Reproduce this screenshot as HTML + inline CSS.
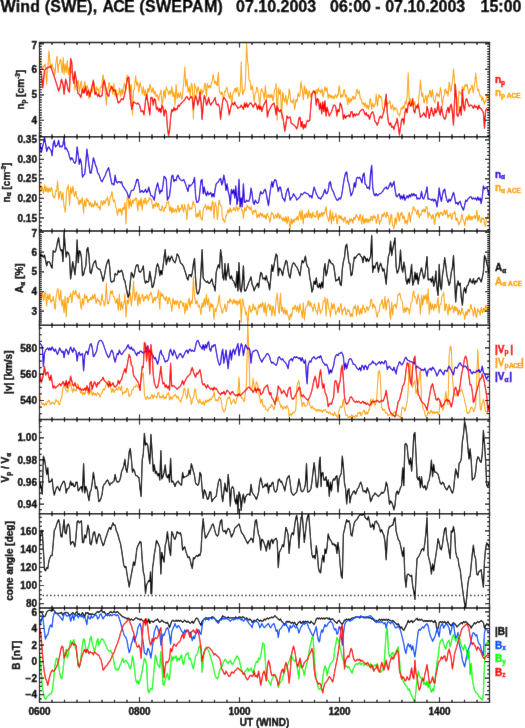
<!DOCTYPE html><html><head><meta charset="utf-8"><style>html,body{margin:0;padding:0;background:#fff;width:525px;height:728px;overflow:hidden}svg{display:block}text{stroke-width:0.4px;stroke:#000}text.c{stroke:inherit}</style></head><body><div id="w">
<svg width="525" height="728" viewBox="0 0 525 728" font-family='"Liberation Sans", sans-serif' font-weight="bold">
<defs><filter id="bl" x="0" y="0" width="525" height="728" filterUnits="userSpaceOnUse"><feConvolveMatrix order="3" kernelMatrix="0.0028 0.0470 0.0028 0.0470 0.8008 0.0470 0.0028 0.0470 0.0028" preserveAlpha="true" edgeMode="duplicate"/></filter>
<clipPath id="c0"><rect x="39.5" y="42.50" width="450.0" height="94.26"/></clipPath>
<clipPath id="c1"><rect x="39.5" y="136.76" width="450.0" height="94.26"/></clipPath>
<clipPath id="c2"><rect x="39.5" y="231.01" width="450.0" height="94.26"/></clipPath>
<clipPath id="c3"><rect x="39.5" y="325.27" width="450.0" height="94.26"/></clipPath>
<clipPath id="c4"><rect x="39.5" y="419.53" width="450.0" height="94.26"/></clipPath>
<clipPath id="c5"><rect x="39.5" y="513.79" width="450.0" height="94.26"/></clipPath>
<clipPath id="c6"><rect x="39.5" y="608.04" width="450.0" height="94.26"/></clipPath>
</defs><g filter="url(#bl)"><rect width="525" height="728" fill="#fff"/>
<line x1="42.70" y1="595.5" x2="489.5" y2="595.5" stroke="#000" stroke-width="1.4" stroke-dasharray="1.3 2.45"/>
<g clip-path="url(#c0)" fill="none" stroke-width="1.3" stroke-linejoin="round">
<polyline stroke="#ffa500" stroke-width="1.05" points="39.1,61.7 39.6,62.3 40.2,60.6 40.7,61.2 41.3,66.1 41.8,69.7 42.3,69.3 42.9,66.4 43.4,66.1 44.0,67.2 44.5,65.0 45.1,63.9 45.6,66.1 46.1,77.2 46.7,84.5 47.2,74.3 47.8,68.2 48.3,60.6 48.9,50.9 49.4,55.3 49.9,61.7 50.5,67.1 51.0,68.2 51.6,64.5 52.1,63.9 52.9,68.1 53.6,68.2 54.3,70.5 54.9,74.7 55.8,63.9 56.5,58.5 57.1,56.3 58.0,72.6 58.5,66.2 59.1,63.9 59.6,63.0 60.1,59.5 60.7,59.4 61.2,63.9 61.8,70.5 62.3,72.6 63.2,57.4 64.1,74.7 64.6,68.3 65.1,63.9 65.7,69.2 66.2,72.6 66.8,64.9 67.3,60.6 67.9,70.0 68.4,74.7 68.9,69.4 69.5,67.1 70.0,71.7 70.6,73.7 71.7,71.5 72.7,72.6 73.3,76.8 73.8,79.1 74.4,83.2 74.9,89.9 75.5,87.2 76.0,81.3 76.5,80.7 77.1,83.4 77.6,83.1 78.2,80.2 78.7,84.9 79.3,92.1 79.8,90.1 80.3,85.6 80.9,81.8 81.4,81.3 82.0,88.6 82.5,93.2 83.1,89.0 83.6,86.7 84.1,86.1 84.7,81.3 85.2,83.8 85.8,89.9 86.3,89.7 86.9,85.6 87.4,86.0 87.9,88.9 88.5,96.1 89.0,98.6 89.6,93.2 90.1,92.1 90.7,91.1 91.2,87.8 91.7,88.5 92.3,92.1 92.8,89.8 93.4,83.4 93.9,82.5 94.5,85.6 95.0,92.3 95.5,94.3 96.1,88.9 96.6,86.7 97.2,89.9 97.7,88.9 98.3,89.1 98.8,93.2 99.3,93.5 99.9,91.0 100.4,87.1 101.0,86.7 101.5,87.3 102.1,83.4 102.6,76.9 103.1,74.7 103.7,79.7 104.2,81.3 104.8,85.4 105.3,93.2 105.9,100.2 106.4,105.1 106.9,97.3 107.5,92.1 108.0,90.4 108.6,84.5 109.1,82.4 109.7,83.4 110.2,87.9 110.7,89.9 111.3,86.0 111.8,85.6 112.4,91.9 112.9,94.3 113.5,86.9 114.0,83.4 114.5,91.4 115.1,96.5 115.6,91.6 116.2,89.9 116.7,95.4 117.3,97.5 117.8,93.8 118.3,94.3 118.9,92.7 119.4,87.8 120.0,90.6 120.5,96.5 121.1,94.3 121.6,88.9 122.1,90.6 122.7,94.3 123.2,91.0 123.8,85.6 124.3,83.1 124.9,84.5 125.4,89.6 125.9,89.9 126.5,80.5 127.0,74.7 127.6,79.0 128.1,80.2 128.7,84.9 129.2,92.1 129.7,93.3 130.3,91.0 130.8,85.4 131.4,84.5 131.9,101.8 132.5,114.9 133.0,100.7 133.5,89.9 134.1,90.0 134.6,85.6 135.2,79.4 135.7,75.8 136.3,82.4 136.8,85.6 137.3,82.2 137.9,83.4 138.4,89.6 139.0,92.1 139.5,85.6 140.1,82.3 140.6,85.9 141.1,86.7 141.7,88.7 142.2,94.3 142.8,92.8 143.3,86.7 143.9,90.1 144.4,95.4 144.9,94.7 145.5,89.9 146.0,92.7 146.6,99.7 147.1,96.5 147.7,88.9 148.2,88.5 148.7,92.1 149.3,90.4 149.8,84.5 150.4,85.0 150.9,88.9 151.5,92.3 152.2,92.1 152.7,88.4 153.3,87.8 153.8,92.1 154.3,94.3 154.9,91.0 155.4,92.1 156.0,96.1 156.5,96.5 157.1,94.7 157.6,95.4 158.1,99.8 158.7,100.8 159.2,95.9 159.8,94.3 160.3,93.6 160.9,89.9 161.4,96.1 161.9,105.1 162.5,103.6 163.0,98.6 163.6,92.4 164.1,89.9 164.7,96.1 165.2,98.6 165.7,91.0 166.3,86.7 166.8,89.3 167.4,89.9 167.9,90.8 168.5,94.3 169.0,93.9 169.5,91.0 170.1,90.9 170.6,94.3 171.2,92.7 171.7,86.7 172.3,89.5 172.8,96.5 173.3,96.4 173.9,92.1 174.4,96.5 175.0,105.1 175.5,96.2 176.1,84.5 176.6,89.4 177.1,98.6 177.7,97.8 178.2,93.2 178.8,94.3 179.3,97.5 179.9,95.8 180.4,92.1 180.9,94.4 181.5,98.6 182.0,99.1 182.6,95.4 183.1,88.1 183.7,83.4 184.2,76.4 184.7,67.1 185.3,75.1 185.8,86.7 186.4,84.3 186.9,79.1 187.5,84.5 188.0,92.1 188.5,90.6 189.1,86.7 189.6,89.9 190.2,96.5 190.7,91.1 191.3,83.4 191.8,83.7 192.3,86.7 192.9,105.0 193.4,119.3 194.0,99.7 194.5,83.4 195.1,86.5 195.6,86.7 196.1,88.8 196.7,94.3 197.2,91.5 197.8,86.7 198.3,86.8 198.9,89.9 199.4,94.8 199.9,96.5 200.5,91.4 201.0,88.9 201.6,92.7 202.1,94.3 202.7,90.9 203.2,92.1 203.7,90.6 204.3,85.6 204.8,83.3 205.4,83.4 205.9,91.8 206.5,96.5 207.0,87.8 207.5,83.4 208.1,86.6 208.6,87.8 209.2,85.7 209.7,85.6 210.3,87.9 210.8,87.8 211.3,83.1 211.9,82.3 212.4,79.7 213.0,74.7 213.5,75.5 214.1,80.2 214.6,83.7 215.1,83.4 215.7,81.1 216.2,82.3 216.8,85.3 217.3,85.6 217.9,76.7 218.4,72.6 218.9,84.5 219.5,92.1 220.0,91.5 220.6,94.3 221.1,94.5 221.7,92.1 222.2,92.4 222.7,96.5 223.3,99.1 223.8,98.6 224.4,93.0 224.9,91.0 225.5,91.9 226.0,89.9 226.5,87.0 227.1,87.8 227.6,92.1 228.2,94.3 228.7,95.1 229.3,98.6 229.8,97.7 230.3,92.1 230.9,95.3 231.4,103.0 232.0,101.7 232.5,97.5 233.1,92.6 233.6,92.1 234.1,91.9 234.7,88.9 235.2,88.2 235.8,92.1 236.3,92.0 236.9,87.8 237.4,87.3 237.9,89.9 238.5,94.5 239.0,96.5 239.6,93.3 240.1,92.1 240.7,79.1 241.2,61.7 241.7,75.9 242.3,92.1 242.8,94.8 243.4,93.2 243.9,89.8 244.5,91.0 245.0,87.9 245.5,81.3 246.1,61.1 246.6,43.3 247.2,54.7 247.7,61.7 248.3,67.0 248.8,76.9 249.3,80.5 249.9,80.2 250.4,83.4 251.0,89.9 251.5,89.3 252.1,85.6 252.6,87.4 253.1,92.1 253.7,98.3 254.2,101.9 254.8,95.6 255.3,93.2 255.9,92.6 256.4,88.9 256.9,87.1 257.5,87.8 258.0,92.1 258.6,94.3 259.1,98.9 259.7,107.3 260.2,101.1 260.7,92.1 261.3,88.8 261.8,88.9 262.4,91.9 262.9,92.1 263.5,93.7 264.2,99.7 264.7,94.9 265.3,85.6 265.8,90.6 266.3,97.5 266.9,98.3 267.4,96.5 268.0,94.5 268.5,95.4 269.1,97.8 269.6,95.4 270.1,94.4 270.7,97.5 271.2,97.4 271.8,94.3 272.3,96.3 272.9,100.8 273.4,100.0 273.9,95.4 274.5,90.0 275.0,88.9 275.6,88.4 276.1,83.4 276.7,100.4 277.2,120.3 277.7,106.3 278.3,87.8 278.8,89.1 279.4,94.3 279.9,93.8 280.5,89.9 281.0,101.7 281.5,118.2 282.1,106.4 282.6,92.1 283.2,93.4 283.7,98.6 284.3,101.3 284.8,101.9 285.3,97.4 285.9,95.4 286.4,102.5 287.0,105.1 287.5,100.6 288.1,98.6 288.6,95.8 289.1,88.9 289.7,91.4 290.2,97.5 290.8,101.9 291.3,101.9 291.9,100.9 292.4,103.0 292.9,102.3 293.5,98.6 294.0,102.7 294.6,109.5 295.1,107.4 295.7,100.8 296.2,99.5 296.7,101.9 297.3,100.4 297.8,94.3 298.4,93.1 298.9,96.5 299.5,96.5 300.0,94.3 300.5,86.0 301.1,81.3 301.6,86.7 302.2,89.9 302.7,93.8 303.3,99.7 303.8,93.7 304.3,85.6 304.9,87.7 305.4,94.3 306.0,93.7 306.5,88.9 307.1,91.6 307.6,98.6 308.1,97.4 308.7,93.2 309.2,90.8 309.8,92.1 310.3,96.9 310.9,97.5 311.4,93.9 311.9,93.2 312.5,93.9 313.0,91.0 313.6,90.3 314.1,92.1 314.7,94.3 315.2,94.3 315.7,90.8 316.3,89.9 316.8,93.8 317.4,93.2 317.9,88.7 318.5,87.8 319.0,91.7 319.5,91.0 320.1,90.5 320.6,93.2 321.2,92.4 321.7,88.9 322.3,90.6 322.8,96.5 323.3,97.0 323.9,93.2 324.4,89.0 325.0,86.7 325.5,90.8 326.1,91.0 326.6,88.3 327.1,87.8 327.7,94.3 328.2,98.6 328.8,94.2 329.3,94.3 329.9,96.9 330.4,97.5 330.9,95.2 331.5,95.4 332.0,98.3 332.6,96.5 333.1,96.0 333.7,98.6 334.2,98.7 334.7,96.5 335.3,94.7 335.8,95.4 336.4,97.8 336.9,97.5 337.5,94.4 338.0,95.4 338.5,91.6 339.1,85.6 339.6,87.7 340.2,94.3 340.7,97.4 341.3,97.5 341.8,94.6 342.3,96.5 342.9,96.6 343.4,92.1 344.0,89.6 344.5,89.9 345.1,95.1 345.6,97.5 346.1,94.8 346.7,95.4 347.2,101.4 347.8,105.1 348.3,99.4 348.9,97.5 349.4,101.3 349.9,103.0 350.5,99.8 351.0,98.6 351.6,101.0 352.1,98.6 352.7,96.2 353.2,96.5 353.7,99.4 354.3,98.6 354.8,97.0 355.4,98.6 355.9,95.7 356.5,89.9 357.0,89.4 357.5,91.0 358.1,93.8 358.6,92.1 359.2,90.8 359.7,94.3 360.3,98.8 360.8,98.6 361.3,99.1 361.9,101.9 362.4,104.2 363.0,104.1 363.5,102.8 364.1,105.1 364.6,106.4 365.1,103.0 365.7,103.4 366.2,107.3 366.8,108.2 367.3,105.1 367.9,105.4 368.4,109.5 368.9,107.6 369.5,103.0 370.0,99.1 370.6,98.6 371.1,105.5 371.7,109.5 372.2,104.9 372.7,103.0 373.3,106.2 373.8,107.3 374.4,104.9 374.9,105.1 375.6,102.0 376.2,94.1 376.8,98.6 377.3,106.3 377.9,103.8 378.4,97.4 379.0,94.5 379.5,95.2 380.1,98.1 380.6,96.3 381.2,96.5 381.7,99.7 382.3,106.0 382.8,109.6 383.4,109.8 383.9,112.9 384.5,108.3 385.0,100.8 385.6,96.9 386.2,97.4 386.7,104.1 387.3,106.3 387.8,103.2 388.4,103.0 388.9,103.3 389.5,100.8 390.0,101.8 390.6,106.3 391.1,109.2 391.7,108.5 392.2,105.0 392.8,105.2 393.3,109.3 393.9,110.7 394.4,108.1 395.0,107.4 395.5,109.3 396.1,108.5 396.6,108.5 397.2,110.7 397.8,114.1 398.3,114.0 398.9,114.1 399.4,116.2 400.0,114.5 400.5,110.7 401.1,107.7 401.6,108.5 402.2,109.3 402.7,107.4 403.3,105.8 403.8,108.5 404.4,107.4 404.9,103.0 405.5,101.3 406.0,104.1 406.6,101.4 407.1,96.3 407.7,83.1 408.2,73.1 408.8,90.7 409.4,104.1 409.9,100.2 410.5,98.6 411.0,104.7 411.6,106.3 412.1,103.4 412.7,103.0 413.2,106.7 413.8,106.3 414.3,101.7 414.9,101.9 415.4,105.7 416.0,105.2 416.5,105.4 417.1,108.5 417.6,108.5 418.2,106.3 418.7,98.0 419.3,93.0 419.8,88.7 420.4,79.8 421.0,86.1 421.5,95.2 422.1,96.4 422.6,93.0 423.2,96.3 423.7,101.9 424.3,103.0 424.8,99.7 425.4,96.4 425.9,95.2 426.5,101.1 427.0,104.1 427.6,97.4 428.1,95.2 428.7,96.8 429.2,94.1 429.8,90.2 430.3,90.8 430.9,96.3 431.4,97.4 432.0,91.5 432.6,89.7 433.1,96.6 433.7,99.7 434.2,100.1 434.8,103.0 435.3,101.2 435.9,96.3 436.4,93.5 437.0,93.0 437.5,96.1 438.1,95.2 438.6,94.4 439.2,97.4 439.7,93.8 440.3,87.5 440.8,89.2 441.4,93.0 441.9,102.0 442.5,106.3 443.0,99.7 443.6,97.4 444.2,95.3 444.7,89.7 445.3,89.1 445.8,91.9 446.4,93.6 446.9,90.8 447.5,92.0 448.0,96.3 448.6,90.7 449.1,82.0 449.7,84.4 450.2,89.7 450.8,91.6 451.3,90.8 451.9,84.9 452.4,80.9 453.0,76.7 453.5,68.7 454.1,76.0 454.6,86.4 455.2,93.2 455.7,96.3 456.3,95.8 456.9,97.4 457.4,105.5 458.0,110.7 458.5,99.6 459.1,90.8 459.6,93.1 460.2,93.0 460.7,92.8 461.3,95.2 461.8,93.0 462.4,86.4 462.9,87.1 463.5,90.8 464.0,90.1 464.6,86.4 465.1,84.6 465.7,86.4 466.2,86.6 466.8,84.2 467.3,85.4 467.9,88.6 468.5,93.1 469.0,94.1 469.6,89.7 470.1,88.6 470.7,90.0 471.2,87.5 471.8,84.8 472.3,85.3 472.9,91.1 473.4,93.0 474.0,87.1 474.5,85.3 475.1,80.5 475.6,73.1 476.2,77.0 476.7,84.2 477.3,89.2 477.8,90.8 478.4,89.0 478.9,89.7 479.5,94.6 480.1,96.3 480.6,95.1 481.2,97.4 481.7,100.8 482.3,99.7 482.8,96.8 483.4,98.6 483.9,102.7 484.5,104.1 485.0,101.1 485.6,101.9 486.1,100.1 486.7,96.3 487.2,94.2 487.8,94.1 488.3,98.0 488.9,98.6"/>
<polyline stroke="#ff0000" points="39.7,70.4 41.3,72.6 42.8,87.8 44.5,70.4 46.7,68.2 48.9,67.1 50.6,66.1 52.1,70.4 53.6,74.7 55.4,80.2 57.1,85.6 58.6,91.0 60.1,86.7 61.5,79.1 63.0,84.5 64.1,94.3 65.6,79.1 66.9,83.4 68.4,91.0 69.5,92.1 70.6,58.5 71.7,61.7 72.7,76.9 73.8,83.4 74.9,71.5 76.7,82.3 77.7,93.2 79.3,94.3 80.8,97.5 82.5,88.9 84.0,93.2 85.3,86.7 86.9,95.4 88.4,89.9 90.1,96.5 91.9,86.7 93.4,80.2 94.9,94.3 96.2,92.1 97.7,96.5 98.8,94.3 99.9,96.9 102.1,95.4 103.1,84.5 104.2,80.2 105.8,87.8 107.1,94.3 108.6,96.5 110.1,89.9 111.8,86.7 113.6,91.0 115.1,89.9 116.6,96.5 118.3,103.0 119.9,101.9 121.6,98.6 123.1,99.7 124.4,95.4 125.9,87.8 127.5,78.0 128.8,76.9 130.3,98.6 131.8,109.5 133.5,101.9 135.3,103.0 136.8,104.1 137.9,103.0 139.6,105.1 141.1,111.7 142.7,110.6 144.0,114.9 145.5,100.8 146.6,94.3 148.3,105.1 149.8,114.9 150.9,97.5 152.2,97.5 153.3,105.1 154.3,98.6 155.4,99.7 156.5,109.5 157.6,107.3 158.7,111.7 159.8,108.4 160.9,112.7 161.9,105.1 163.0,107.3 164.1,116.0 165.2,109.5 166.3,111.7 167.4,126.9 168.5,135.5 169.5,131.2 170.6,118.2 171.7,109.5 172.8,111.7 173.9,107.3 175.0,110.6 176.1,108.4 177.1,109.5 178.2,105.1 179.3,106.2 180.4,104.1 181.5,103.0 182.6,101.9 183.7,100.8 184.7,99.7 185.8,97.5 186.9,96.5 188.0,98.6 189.1,99.7 190.2,97.5 191.3,96.5 192.3,98.6 193.4,109.5 194.5,100.8 195.6,95.4 196.7,98.6 197.8,105.1 198.9,100.8 199.9,92.1 201.0,101.9 202.1,119.3 203.2,105.1 204.3,95.4 205.4,98.6 206.5,105.1 207.5,103.0 208.6,97.5 209.7,103.0 210.8,105.1 211.9,103.0 213.0,101.9 214.1,99.7 215.1,97.5 216.2,104.1 217.3,105.1 218.4,104.1 219.5,107.3 220.6,119.3 221.7,109.5 222.7,100.8 223.8,97.5 224.9,98.6 226.0,100.8 227.1,101.9 228.2,107.3 229.3,114.9 230.3,109.5 231.4,105.1 232.5,103.0 233.6,105.1 234.7,101.9 235.8,105.1 236.9,106.2 237.9,108.4 239.0,107.3 240.1,107.3 241.2,105.1 242.3,107.3 243.4,109.5 244.5,103.0 245.5,107.3 246.6,103.0 247.7,107.3 248.8,105.1 249.9,103.0 251.0,103.0 252.1,105.1 253.1,107.3 254.2,105.1 255.3,103.0 256.4,105.1 257.5,109.5 258.6,105.1 259.7,109.5 260.7,106.2 261.8,111.7 262.9,107.3 264.2,104.1 265.3,101.9 266.3,99.7 267.4,117.1 268.5,111.7 269.6,109.5 270.7,107.3 271.8,105.1 272.9,104.1 273.9,103.0 275.0,107.3 276.1,114.9 277.2,106.2 278.3,109.5 279.4,111.7 280.5,109.5 281.5,112.7 282.6,116.0 283.7,122.5 284.8,131.2 285.9,124.7 287.0,116.0 288.1,118.2 289.1,117.1 290.2,117.1 291.3,123.6 292.4,123.6 293.5,124.7 294.6,125.8 295.7,126.9 296.7,129.0 297.8,125.8 298.9,118.2 300.0,117.1 301.1,126.9 302.2,121.4 303.3,129.0 304.3,124.7 305.4,127.9 306.5,122.5 307.6,120.3 308.7,121.4 309.8,120.3 310.9,105.1 311.9,94.3 313.0,92.1 314.1,91.0 315.2,93.2 316.3,105.1 317.4,98.6 318.5,99.7 319.5,109.5 320.6,103.0 321.7,113.8 322.8,101.9 323.9,111.7 325.0,100.8 326.1,116.0 327.1,107.3 328.2,111.7 329.3,116.0 330.4,113.8 331.5,111.7 332.6,108.4 333.7,105.1 334.7,105.1 335.8,107.3 336.9,116.0 338.0,109.5 339.1,111.7 340.2,103.0 341.3,105.1 342.3,109.5 343.4,119.3 344.5,114.9 345.6,118.2 346.7,116.0 347.8,116.0 348.9,114.9 349.9,117.1 351.0,111.7 352.1,111.7 353.2,117.1 354.3,113.8 355.4,116.0 356.5,113.8 357.5,114.9 358.6,114.9 359.7,111.7 360.8,110.6 361.9,109.5 363.0,109.5 364.1,111.7 365.1,114.9 366.2,112.7 367.3,116.0 368.4,114.9 369.5,119.3 370.6,114.9 371.7,112.7 372.7,111.7 373.8,114.9 374.9,121.4 376.2,122.9 377.3,125.1 378.4,121.7 379.5,117.3 380.6,116.2 381.7,118.4 382.8,115.1 383.9,110.7 385.0,105.2 386.2,94.1 387.3,112.9 388.4,121.7 389.5,125.1 390.6,122.9 391.7,127.3 392.8,126.2 393.9,129.5 395.0,125.1 396.1,122.9 397.2,118.4 398.3,126.2 399.4,135.0 400.5,127.3 401.6,119.5 402.7,118.4 403.8,124.0 404.9,112.9 406.0,108.5 407.1,112.9 408.2,104.1 409.4,101.9 410.5,106.3 411.6,104.1 412.7,98.6 413.8,110.7 414.9,112.9 416.0,106.3 417.1,107.4 418.2,104.1 419.3,110.7 420.4,117.3 421.5,116.2 422.6,115.1 423.7,112.9 424.8,115.1 425.9,117.3 427.0,106.3 428.1,110.7 429.2,118.4 430.3,112.9 431.4,107.4 432.6,112.9 433.7,116.2 434.8,108.5 435.9,112.9 437.0,110.7 438.1,101.9 439.2,111.8 440.3,115.1 441.4,106.3 442.5,112.9 443.6,117.3 444.7,119.5 445.8,117.3 446.9,110.7 448.0,107.4 449.1,112.9 450.2,106.3 451.3,104.1 452.4,112.9 453.5,125.1 454.6,99.7 455.3,84.2 456.2,95.2 456.9,115.1 458.0,116.2 459.1,112.9 460.2,106.3 461.3,115.1 462.4,89.7 463.5,106.3 464.6,110.7 465.7,99.7 466.8,98.6 467.9,103.0 469.0,106.3 470.1,105.2 471.2,105.2 472.3,106.3 473.4,108.5 474.5,105.2 475.6,107.4 476.7,106.3 477.8,109.6 478.9,105.2 480.1,108.5 481.2,108.5 482.3,110.7 483.4,112.9 484.5,128.4 485.6,110.7 486.7,108.5 487.8,110.7 488.9,108.5"/>
</g>
<g clip-path="url(#c1)" fill="none" stroke-width="1.3" stroke-linejoin="round">
<polyline stroke="#ffa500" stroke-width="1.05" points="39.1,193.6 39.6,191.6 40.2,184.9 40.7,185.3 41.3,190.4 41.8,189.8 42.3,187.1 42.9,189.3 43.4,193.6 44.0,191.5 44.5,184.9 45.1,186.2 45.6,191.5 46.1,191.2 46.7,187.1 47.2,188.4 47.8,192.5 48.3,192.2 48.9,188.2 49.4,188.0 49.9,191.5 50.5,191.6 51.0,188.2 51.6,187.6 52.1,189.3 52.7,194.7 53.2,196.9 53.7,195.9 54.3,198.0 54.8,197.8 55.4,193.6 55.9,190.2 56.5,191.5 57.0,188.4 57.5,180.6 58.1,188.1 58.6,199.1 59.2,197.9 59.7,193.6 60.3,191.2 60.8,191.5 61.3,196.8 61.9,200.1 62.4,195.3 63.0,192.5 63.5,201.2 64.1,206.7 64.6,208.0 65.1,212.1 65.7,206.5 66.2,198.0 66.8,190.3 67.3,187.1 67.9,187.7 68.4,184.9 68.9,193.5 69.5,205.6 70.0,197.6 70.6,187.1 71.1,189.4 71.7,193.6 72.2,191.3 72.7,186.0 73.3,188.7 73.8,193.6 74.4,196.4 74.9,195.8 75.5,191.2 76.0,191.5 76.5,196.6 77.1,198.0 77.6,197.8 78.2,200.1 78.7,204.6 79.3,204.5 79.8,200.2 80.3,200.1 80.9,203.2 81.4,202.3 82.0,197.9 82.5,198.0 83.1,207.6 83.6,213.2 84.1,204.6 84.7,200.1 85.2,204.9 85.8,206.7 86.3,199.9 86.9,198.0 87.4,201.4 87.9,200.1 88.5,201.1 89.0,204.5 89.6,205.4 90.1,202.3 90.7,202.5 91.2,206.7 91.7,207.2 92.3,204.5 92.8,203.9 93.4,206.7 93.9,206.7 94.5,203.4 95.0,200.6 95.5,202.3 96.1,205.6 96.6,205.6 97.2,202.9 97.7,204.5 98.3,207.6 98.8,207.7 99.3,206.6 99.9,209.9 100.4,208.4 101.0,202.3 101.5,200.7 102.1,202.3 102.6,205.2 103.1,204.5 103.7,200.6 104.2,201.2 104.8,203.8 105.3,202.3 105.9,199.6 106.4,200.1 106.9,199.8 107.5,196.9 108.0,199.8 108.6,205.6 109.1,205.4 109.7,201.2 110.2,197.3 110.7,195.8 111.3,195.9 111.8,191.5 112.4,193.9 112.9,199.1 113.5,201.9 114.0,200.1 114.5,199.8 115.1,202.3 115.6,207.4 116.2,207.7 116.7,209.6 117.3,215.3 117.8,214.3 118.3,209.9 118.9,208.8 119.4,211.0 120.0,211.8 120.5,208.8 121.1,210.3 121.6,215.3 122.1,213.0 122.7,207.7 123.2,207.6 123.8,209.9 124.3,207.8 124.9,202.3 125.4,210.9 125.9,224.0 126.5,213.9 127.0,200.1 127.6,196.9 128.1,195.8 128.7,204.5 129.2,208.8 129.7,201.9 130.3,199.1 130.8,205.1 131.4,206.7 131.9,202.2 132.5,200.1 133.0,203.3 133.5,202.3 134.1,199.6 134.6,199.1 135.2,200.4 135.7,198.0 136.3,197.7 136.8,200.1 137.3,206.9 137.9,211.0 138.4,203.4 139.0,200.1 139.5,204.0 140.1,205.6 140.6,200.1 141.1,198.0 141.7,206.1 142.2,209.9 142.8,203.7 143.3,200.1 143.9,203.0 144.4,203.4 144.9,198.5 145.5,198.0 146.0,202.8 146.6,204.5 147.1,200.9 147.7,201.2 148.2,201.7 148.7,200.1 149.3,197.6 149.8,198.0 150.4,199.7 150.9,199.1 151.5,199.8 152.2,204.5 152.7,207.7 153.3,208.8 153.8,204.3 154.3,204.5 154.9,206.6 155.4,206.7 156.0,202.5 156.5,202.3 157.1,205.5 157.6,206.7 158.1,203.7 158.7,203.4 159.2,208.8 159.8,209.9 160.3,209.3 160.9,211.0 161.4,210.1 161.9,206.7 162.5,205.8 163.0,208.8 163.6,211.4 164.1,211.0 164.7,207.8 165.2,206.7 165.7,208.0 166.3,204.5 166.8,202.2 167.4,202.3 167.9,202.8 168.5,201.2 169.0,204.7 169.5,211.0 170.1,210.7 170.6,206.7 171.2,207.9 171.7,213.2 172.3,211.6 172.8,207.7 173.3,208.5 173.9,212.1 174.4,212.0 175.0,209.9 175.5,208.9 176.1,211.0 176.6,212.5 177.1,209.9 177.7,205.7 178.2,205.6 178.8,211.1 179.3,212.1 179.9,208.4 180.4,208.8 180.9,209.4 181.5,205.6 182.0,204.1 182.6,206.7 183.1,211.0 183.7,212.1 184.2,207.0 184.7,204.5 185.3,208.6 185.8,208.8 186.4,212.8 186.9,219.7 187.5,213.2 188.0,204.5 188.5,204.0 189.1,206.7 189.6,210.0 190.2,208.8 190.7,207.7 191.3,208.8 191.8,209.0 192.3,205.6 192.9,201.9 193.4,201.2 194.0,204.6 194.5,204.5 195.1,206.6 195.6,211.0 196.1,216.6 196.7,217.5 197.2,214.0 197.8,213.2 198.3,216.6 198.9,216.4 199.4,211.6 199.9,209.9 200.5,215.2 201.0,218.6 201.6,217.9 202.1,220.8 202.7,216.5 203.2,209.9 203.7,207.8 204.3,207.7 204.8,207.1 205.4,204.5 205.9,206.0 206.5,209.9 207.0,209.4 207.5,206.7 208.1,205.9 208.6,208.8 209.2,209.4 209.7,206.7 210.3,206.5 210.8,211.0 211.3,210.1 211.9,204.5 212.4,201.0 213.0,202.3 213.5,211.8 214.1,218.6 214.6,208.9 215.1,202.3 215.7,205.3 216.2,205.6 216.8,210.8 217.3,219.7 217.9,215.0 218.4,206.7 218.9,201.3 219.5,200.1 220.0,204.8 220.6,205.6 221.1,205.3 221.7,207.7 222.2,215.3 222.7,219.7 223.3,218.5 223.8,220.8 224.4,222.3 224.9,221.9 225.5,217.6 226.0,215.3 226.5,215.8 227.1,213.2 227.6,210.4 228.2,209.9 228.7,213.0 229.3,212.1 229.8,208.6 230.3,207.7 230.9,211.0 231.4,212.1 232.0,209.8 232.5,209.9 233.1,210.1 233.6,207.7 234.1,207.6 234.7,209.9 235.2,211.1 235.8,208.8 236.3,206.1 236.9,206.7 237.4,210.2 237.9,211.0 238.5,208.0 239.0,208.8 239.6,208.5 240.1,205.6 240.7,203.9 241.2,206.7 241.7,210.6 242.3,209.9 242.8,212.3 243.4,218.6 243.9,214.8 244.5,207.7 245.0,207.7 245.5,211.0 246.1,210.6 246.6,206.7 247.2,205.1 247.7,205.6 248.3,208.2 248.8,207.7 249.3,207.1 249.9,209.9 250.4,209.5 251.0,206.7 251.5,208.3 252.1,212.1 252.6,214.7 253.1,213.2 253.7,210.6 254.2,211.0 254.8,212.2 255.3,209.9 255.9,209.8 256.4,214.3 256.9,217.7 257.5,217.5 258.0,214.5 258.6,214.3 259.1,217.2 259.7,215.3 260.2,212.8 260.7,213.2 261.3,215.8 261.8,216.4 262.4,213.4 262.9,214.3 263.5,217.0 264.2,217.5 264.7,215.0 265.3,215.3 265.8,219.1 266.3,218.6 266.9,214.0 267.4,213.2 268.0,215.8 268.5,216.4 269.1,217.5 269.6,221.9 270.1,221.8 270.7,218.6 271.2,213.7 271.8,212.1 272.3,214.4 272.9,214.3 273.4,214.6 273.9,218.6 274.5,218.6 275.0,216.4 275.6,214.5 276.1,215.3 276.7,217.9 277.2,217.5 277.7,213.0 278.3,213.2 278.8,217.0 279.4,218.6 279.9,214.9 280.5,215.3 281.0,218.2 281.5,218.6 282.1,217.9 282.6,220.8 283.2,220.7 283.7,217.5 284.3,218.1 284.8,221.9 285.3,221.2 285.9,216.4 286.4,218.7 287.0,224.0 287.5,221.4 288.1,216.4 288.6,218.0 289.1,221.9 289.7,226.2 290.2,228.4 290.8,221.3 291.3,218.6 291.9,223.2 292.4,224.0 292.9,219.5 293.5,219.7 294.0,222.2 294.6,220.8 295.1,218.7 295.7,218.6 296.2,220.0 296.7,217.5 297.3,216.5 297.8,219.7 298.4,220.1 298.9,216.4 299.5,212.0 300.0,211.0 300.5,216.8 301.1,219.7 301.6,213.2 302.2,209.9 302.7,219.1 303.3,224.0 303.8,217.8 304.3,214.3 304.9,217.6 305.4,217.5 306.0,213.7 306.5,213.2 307.1,217.7 307.6,217.5 308.1,211.6 308.7,209.9 309.2,216.0 309.8,217.5 310.3,213.2 310.9,213.2 311.4,217.3 311.9,218.6 312.5,214.1 313.0,212.1 313.6,215.9 314.1,216.4 314.7,215.6 315.2,217.5 315.7,217.5 316.3,214.3 316.8,210.7 317.4,211.0 317.9,217.6 318.5,219.7 319.0,214.6 319.5,213.2 320.1,216.9 320.6,216.4 321.2,213.2 321.7,212.1 322.3,215.7 322.8,216.4 323.3,212.4 323.9,213.2 324.4,213.8 325.0,212.1 325.5,207.8 326.1,206.7 326.6,212.6 327.1,216.4 327.7,217.0 328.2,219.7 328.8,221.4 329.3,218.6 329.9,211.9 330.4,209.9 330.9,218.9 331.5,224.0 332.0,216.9 332.6,212.1 333.1,217.8 333.7,220.8 334.2,217.3 334.7,216.4 335.3,216.7 335.8,213.2 336.4,216.7 336.9,224.0 337.5,222.9 338.0,218.6 338.5,215.3 339.1,215.3 339.6,218.1 340.2,218.6 340.7,215.8 341.3,216.4 341.8,219.8 342.3,218.6 342.9,218.2 343.4,221.9 344.0,220.8 344.5,217.5 345.1,216.9 345.6,219.7 346.1,223.3 346.7,222.9 347.2,220.5 347.8,220.8 348.3,224.7 348.9,224.0 349.4,219.7 349.9,218.6 350.5,221.7 351.0,220.8 351.6,218.7 352.1,219.7 352.7,223.2 353.2,221.9 353.7,217.6 354.3,217.5 354.8,219.8 355.4,218.6 355.9,215.3 356.5,214.3 357.0,216.9 357.5,216.4 358.1,217.6 358.6,220.8 359.2,219.9 359.7,215.3 360.3,214.2 360.8,217.5 361.3,222.0 361.9,224.0 362.4,218.0 363.0,215.3 363.5,221.3 364.1,224.0 364.6,219.8 365.1,218.6 365.7,222.2 366.2,221.9 366.8,218.5 367.3,219.7 367.9,222.8 368.4,221.9 368.9,219.1 369.5,219.7 370.0,221.5 370.6,218.6 371.1,216.1 371.7,216.4 372.2,220.6 372.7,220.8 373.3,216.2 373.8,215.3 374.4,217.9 374.9,216.4 375.6,217.7 376.2,223.4 376.8,221.9 377.3,217.9 377.9,214.3 378.4,214.5 379.0,221.1 379.5,224.5 380.1,220.9 380.6,221.2 381.2,220.8 381.7,215.6 382.3,214.3 382.8,216.7 383.4,216.1 383.9,213.4 384.5,212.4 385.0,214.5 385.6,217.6 386.2,216.7 386.7,212.3 387.3,212.3 387.8,215.9 388.4,215.6 388.9,217.9 389.5,224.5 390.0,222.7 390.6,219.0 391.1,214.4 391.7,214.5 392.2,222.1 392.8,225.6 393.3,225.4 393.9,228.9 394.4,225.6 395.0,217.9 395.5,218.9 396.1,224.5 396.6,221.2 397.2,215.6 397.8,212.4 398.3,213.4 398.9,219.4 399.4,221.2 400.0,216.1 400.5,213.4 401.1,214.9 401.6,212.3 402.2,213.8 402.7,219.0 403.3,218.5 403.8,215.6 404.4,217.4 404.9,223.4 405.5,222.9 406.0,220.1 406.6,220.4 407.1,224.5 407.7,222.2 408.2,216.7 408.8,213.2 409.4,212.3 409.9,219.1 410.5,222.3 411.0,216.2 411.6,213.4 412.1,213.6 412.7,211.2 413.2,206.7 413.8,206.8 414.3,209.5 414.9,210.1 415.4,209.7 416.0,211.2 416.5,214.5 417.1,214.5 417.6,210.2 418.2,210.1 418.7,215.9 419.3,217.9 419.8,214.2 420.4,214.5 421.0,215.1 421.5,212.3 422.1,209.8 422.6,211.2 423.2,211.6 423.7,209.0 424.3,209.3 424.8,212.3 425.4,211.8 425.9,207.9 426.5,206.4 427.0,206.8 427.6,213.4 428.1,217.9 428.7,213.0 429.2,212.3 429.8,215.2 430.3,215.6 430.9,215.3 431.4,219.0 432.0,218.8 432.6,214.5 433.1,214.7 433.7,217.9 434.2,223.1 434.8,224.5 435.3,216.9 435.9,213.4 436.4,216.2 437.0,214.5 437.5,212.3 438.1,212.3 438.6,216.3 439.2,217.9 439.7,213.6 440.3,212.3 440.8,214.0 441.4,212.3 441.9,212.6 442.5,215.6 443.0,215.5 443.6,213.4 444.2,210.0 444.7,210.1 445.3,214.7 445.8,214.5 446.4,210.8 446.9,210.1 447.5,215.7 448.0,217.9 448.6,215.2 449.1,215.6 449.7,216.1 450.2,213.4 450.8,214.0 451.3,219.0 451.9,219.3 452.4,216.7 453.0,213.2 453.5,213.4 454.1,214.0 454.6,211.2 455.2,213.4 455.7,219.0 456.3,220.7 456.9,217.9 457.4,218.4 458.0,221.2 458.5,225.0 459.1,224.5 459.6,222.0 460.2,222.3 460.7,221.4 461.3,216.7 461.8,214.1 462.4,215.6 462.9,219.8 463.5,220.1 464.0,221.3 464.6,225.6 465.1,225.0 465.7,220.1 466.2,217.3 466.8,216.7 467.3,220.3 467.9,220.1 468.5,215.8 469.0,214.5 469.6,219.0 470.1,220.1 470.7,216.2 471.2,216.7 471.8,220.0 472.3,219.0 472.9,216.5 473.4,217.9 474.0,218.2 474.5,215.6 475.1,216.0 475.6,219.0 476.2,216.2 476.7,210.1 477.3,214.4 477.8,221.2 478.4,219.8 478.9,215.6 479.5,215.5 480.1,220.1 480.6,222.3 481.2,222.3 481.7,217.9 482.3,217.9 482.8,219.4 483.4,217.9 483.9,219.1 484.5,223.4 485.0,225.9 485.6,225.6 486.1,220.6 486.7,217.9 487.2,218.4 487.8,215.6 488.3,215.0 488.9,216.7"/>
<polyline stroke="#3000e0" points="39.1,149.1 40.2,143.7 41.3,152.4 42.3,148.0 43.4,143.7 44.5,137.2 45.6,143.7 46.7,151.3 47.8,148.0 48.9,146.9 49.9,149.1 51.0,150.2 52.1,155.6 53.2,143.7 54.3,140.4 55.4,146.9 56.5,145.9 57.5,144.8 58.6,140.4 59.7,146.9 60.8,145.9 61.9,146.9 63.0,144.8 64.1,137.2 65.1,149.1 66.2,148.0 67.3,150.2 68.4,152.4 69.5,156.7 70.6,160.0 71.7,157.8 72.7,158.9 73.8,162.1 74.9,163.2 76.0,161.1 77.1,146.9 78.2,154.5 79.3,164.3 80.3,158.9 81.4,163.2 82.5,177.3 83.6,175.2 84.7,174.1 85.8,163.2 86.9,149.1 87.9,156.7 89.0,165.4 90.1,173.0 91.2,173.0 92.3,165.4 93.4,157.8 94.5,161.1 95.5,165.4 96.6,167.6 97.7,173.0 98.8,174.1 99.9,177.3 101.0,180.6 102.1,181.7 103.1,179.5 104.2,177.3 105.3,175.2 106.4,171.9 107.5,169.7 108.6,167.6 109.7,173.0 110.7,178.4 111.8,183.9 112.9,183.9 114.0,184.9 115.1,175.2 116.2,181.7 117.3,182.8 118.3,181.7 119.4,181.7 120.5,182.8 121.6,181.7 122.7,186.0 123.8,187.1 124.9,189.3 125.9,190.4 127.0,192.5 128.1,195.8 129.2,198.0 130.3,193.6 131.4,190.4 132.5,190.4 133.5,190.4 134.6,187.1 135.7,183.9 136.8,179.5 137.9,179.5 139.0,184.9 140.1,192.5 141.1,191.5 142.2,190.4 143.3,192.5 144.4,191.5 145.5,189.3 146.6,192.5 147.7,191.5 148.7,187.1 149.8,191.5 150.9,195.8 152.2,195.8 153.3,198.0 154.3,200.1 155.4,191.5 156.5,187.1 157.6,182.8 158.7,188.2 159.8,193.6 160.9,190.4 161.9,191.5 163.0,184.9 164.1,176.3 165.2,177.3 166.3,179.5 167.4,200.1 168.5,198.0 169.5,195.8 170.6,187.1 171.7,176.3 172.8,175.2 173.9,181.7 175.0,179.5 176.1,180.6 177.1,176.3 178.2,175.2 179.3,178.4 180.4,179.5 181.5,180.6 182.6,180.6 183.7,179.5 184.7,181.7 185.8,184.9 186.9,188.2 188.0,191.5 189.1,184.9 190.2,186.0 191.3,184.9 192.3,183.9 193.4,181.7 194.5,177.3 195.6,195.8 196.7,202.3 197.8,202.3 198.9,200.1 199.9,191.5 201.0,180.6 202.1,179.5 203.2,193.6 204.3,187.1 205.4,193.6 206.5,195.8 207.5,191.5 208.6,194.7 209.7,193.6 210.8,192.5 211.9,196.9 213.0,193.6 214.1,196.9 215.1,189.3 216.2,183.9 217.3,182.8 218.4,181.7 219.5,179.5 220.6,178.4 221.7,184.9 222.7,182.8 223.8,175.2 224.9,180.6 226.0,190.4 227.1,183.9 228.2,191.5 229.3,195.8 230.3,204.5 231.4,189.3 232.5,193.6 233.6,189.3 234.7,198.0 235.8,186.0 236.9,204.5 237.9,200.1 239.0,179.5 240.1,206.7 241.2,198.0 242.3,206.7 243.4,183.9 244.5,202.3 245.5,202.3 246.6,200.1 247.7,201.2 248.8,201.2 249.9,198.0 251.0,188.2 252.1,193.6 253.1,202.3 254.2,204.5 255.3,200.1 256.4,202.3 257.5,203.4 258.6,202.3 259.7,195.8 260.7,191.5 261.8,193.6 262.9,193.6 264.2,190.4 265.3,189.3 266.3,193.6 267.4,200.1 268.5,205.6 269.6,195.8 270.7,188.2 271.8,181.7 272.9,187.1 273.9,181.7 275.0,179.5 276.1,180.6 277.2,186.0 278.3,191.5 279.4,187.1 280.5,187.1 281.5,192.5 282.6,198.0 283.7,199.1 284.8,201.2 285.9,194.7 287.0,190.4 288.1,188.2 289.1,193.6 290.2,200.1 291.3,198.0 292.4,196.9 293.5,193.6 294.6,195.8 295.7,196.9 296.7,200.1 297.8,199.1 298.9,198.0 300.0,196.9 301.1,193.6 302.2,194.7 303.3,193.6 304.3,192.5 305.4,192.5 306.5,193.6 307.6,193.6 308.7,194.7 309.8,196.9 310.9,195.8 311.9,198.0 313.0,192.5 314.1,187.1 315.2,190.4 316.3,193.6 317.4,195.8 318.5,198.0 319.5,198.0 320.6,199.1 321.7,196.9 322.8,195.8 323.9,192.5 325.0,189.3 326.1,193.6 327.1,193.6 328.2,190.4 329.3,182.8 330.4,181.7 331.5,188.2 332.6,190.4 333.7,192.5 334.7,195.8 335.8,198.0 336.9,200.1 338.0,200.1 339.1,198.0 340.2,199.1 341.3,196.9 342.3,191.5 343.4,183.9 344.5,177.3 345.6,173.0 346.7,171.9 347.8,180.6 348.9,183.9 349.9,189.3 351.0,195.8 352.1,193.6 353.2,190.4 354.3,182.8 355.4,187.1 356.5,178.4 357.5,177.3 358.6,178.4 359.7,177.3 360.8,179.5 361.9,182.8 363.0,175.2 364.1,173.0 365.1,183.9 366.2,184.9 367.3,188.2 368.4,187.1 369.5,189.3 370.6,173.0 371.7,165.4 372.7,187.1 373.8,193.6 374.9,195.8 376.2,193.6 377.3,195.8 378.4,194.7 379.5,193.6 380.6,193.6 381.7,192.4 382.8,191.3 383.9,189.1 385.0,188.0 386.2,186.9 387.3,189.1 388.4,188.0 389.5,184.7 390.6,182.5 391.7,186.9 392.8,184.7 393.9,181.4 395.0,189.1 396.1,195.8 397.2,196.9 398.3,194.7 399.4,193.6 400.5,199.1 401.6,195.8 402.7,199.1 403.8,194.7 404.9,200.2 406.0,198.0 407.1,195.8 408.2,198.0 409.4,194.7 410.5,196.9 411.6,193.6 412.7,195.8 413.8,193.6 414.9,195.8 416.0,194.7 417.1,199.1 418.2,198.0 419.3,199.1 420.4,198.0 421.5,191.3 422.6,198.0 423.7,199.1 424.8,195.8 425.9,192.4 427.0,186.9 428.1,199.1 429.2,199.1 430.3,199.1 431.4,200.2 432.6,199.1 433.7,201.3 434.8,199.1 435.9,201.3 437.0,206.8 438.1,199.1 439.2,188.0 440.3,196.9 441.4,201.3 442.5,194.7 443.6,190.2 444.7,189.1 445.8,195.8 446.9,200.2 448.0,202.4 449.1,199.1 450.2,201.3 451.3,199.1 452.4,195.8 453.5,192.4 454.6,196.9 455.7,203.5 456.9,202.4 458.0,204.6 459.1,202.4 460.2,201.3 461.3,205.7 462.4,207.9 463.5,210.1 464.6,205.7 465.7,200.2 466.8,201.3 467.9,199.1 469.0,198.0 470.1,196.9 471.2,196.9 472.3,199.1 473.4,198.0 474.5,199.1 475.6,198.0 476.7,200.2 477.8,196.9 478.9,200.2 480.1,198.0 481.2,203.5 482.3,196.9 483.4,185.8 484.5,189.1 485.6,188.0 486.7,186.9 487.8,190.2 488.9,195.8"/>
</g>
<g clip-path="url(#c2)" fill="none" stroke-width="1.3" stroke-linejoin="round">
<polyline stroke="#ffa500" stroke-width="1.05" points="39.1,303.9 39.6,300.3 40.2,294.1 40.7,294.6 41.3,298.5 41.8,296.7 42.3,292.0 42.9,294.5 43.4,300.7 44.0,299.3 44.5,294.1 45.1,292.0 45.6,292.0 46.1,300.0 46.7,306.1 47.2,298.0 47.8,294.1 48.3,298.2 48.9,299.6 49.4,295.6 49.9,294.1 50.5,300.9 51.0,302.8 51.6,300.1 52.1,300.7 52.7,300.7 53.2,296.3 53.7,298.5 54.3,303.9 54.8,308.5 55.4,309.3 55.9,300.0 56.5,293.1 57.0,292.8 57.5,288.7 58.1,289.2 58.6,294.1 59.2,299.1 59.7,300.7 60.3,293.2 60.8,289.8 61.3,299.9 61.9,306.1 62.4,301.8 63.0,299.6 63.5,308.1 64.1,312.6 64.6,302.7 65.1,296.3 65.7,308.0 66.2,316.9 66.8,306.2 67.3,297.4 67.9,302.3 68.4,302.8 68.9,297.9 69.5,296.3 70.0,296.7 70.6,293.1 71.1,295.7 71.7,302.8 72.2,300.5 72.7,294.1 73.3,290.8 73.8,292.0 74.4,294.6 74.9,294.1 75.5,290.4 76.0,290.9 76.5,295.2 77.1,296.3 77.6,295.1 78.2,298.5 78.7,298.0 79.3,293.1 79.8,296.8 80.3,302.8 80.9,307.2 81.4,309.3 82.0,302.6 82.5,298.5 83.1,304.1 83.6,305.0 84.1,298.0 84.7,294.1 85.2,298.2 85.8,298.5 86.3,296.0 86.9,296.3 87.4,301.3 87.9,302.8 88.5,299.7 89.0,299.6 89.6,300.5 90.1,298.5 90.7,297.2 91.2,299.6 91.7,299.7 92.3,296.3 92.8,295.1 93.4,298.5 93.9,298.3 94.5,294.1 95.0,294.6 95.5,299.6 96.1,303.4 96.6,302.8 97.2,298.3 97.7,298.5 98.3,301.5 98.8,300.7 99.3,300.6 99.9,302.8 100.4,305.6 101.0,303.9 101.5,296.7 102.1,294.1 102.6,299.7 103.1,300.7 103.7,301.6 104.2,306.1 104.8,305.4 105.3,300.7 105.9,290.7 106.4,283.3 106.9,295.8 107.5,303.9 108.0,302.1 108.6,303.9 109.1,302.0 109.7,297.4 110.2,293.1 110.7,290.9 111.3,293.6 111.8,292.0 112.4,290.7 112.9,294.1 113.5,296.9 114.0,297.4 114.5,296.9 115.1,300.7 115.6,303.3 116.2,302.8 116.7,299.5 117.3,298.5 117.8,305.8 118.3,310.4 118.9,300.2 119.4,294.1 120.0,304.5 120.5,310.4 121.1,305.1 121.6,301.7 122.1,307.4 122.7,309.3 123.2,305.6 123.8,303.9 124.3,301.0 124.9,294.1 125.4,304.1 125.9,316.9 126.5,311.0 127.0,300.7 127.6,299.9 128.1,303.9 128.7,301.8 129.2,296.3 129.7,292.3 130.3,293.1 130.8,301.0 131.4,306.1 131.9,300.1 132.5,296.3 133.0,290.5 133.5,281.1 134.1,289.9 134.6,300.7 135.2,298.6 135.7,294.1 136.3,291.5 136.8,292.0 137.3,300.9 137.9,306.1 138.4,298.9 139.0,294.1 139.5,300.1 140.1,303.9 140.6,298.5 141.1,297.4 141.7,297.2 142.2,294.1 142.8,295.1 143.3,300.7 143.9,301.3 144.4,297.4 144.9,296.4 145.5,298.5 146.0,298.5 146.6,295.2 147.1,294.6 147.7,297.4 148.2,300.4 148.7,299.6 149.3,295.0 149.8,294.1 150.4,294.8 150.9,292.0 151.5,293.4 152.2,298.5 152.7,303.0 153.3,302.8 153.8,298.4 154.3,297.4 154.9,300.6 155.4,300.7 156.0,297.0 156.5,297.4 157.1,298.2 157.6,296.3 158.1,291.7 158.7,289.8 159.2,301.9 159.8,309.3 160.3,299.0 160.9,292.0 161.4,295.9 161.9,296.3 162.5,294.3 163.0,294.1 163.6,297.9 164.1,298.5 164.7,297.8 165.2,300.7 165.7,299.5 166.3,296.3 166.8,298.3 167.4,303.9 167.9,303.6 168.5,299.6 169.0,297.4 169.5,297.4 170.1,302.0 170.6,302.8 171.2,305.5 171.7,311.5 172.3,306.9 172.8,298.5 173.3,299.7 173.9,303.9 174.4,304.3 175.0,300.7 175.5,300.8 176.1,305.0 176.6,303.8 177.1,300.7 177.7,301.2 178.2,303.9 178.8,308.0 179.3,308.3 179.9,302.1 180.4,300.7 180.9,302.5 181.5,301.7 182.0,302.3 182.6,306.1 183.1,306.3 183.7,302.8 184.2,306.8 184.7,313.7 185.3,309.7 185.8,302.8 186.4,305.2 186.9,310.4 187.5,308.7 188.0,303.9 188.5,299.4 189.1,298.5 189.6,304.2 190.2,307.2 190.7,302.4 191.3,300.7 191.8,303.8 192.3,302.8 192.9,288.8 193.4,276.8 194.0,288.9 194.5,297.4 195.1,298.6 195.6,303.9 196.1,303.7 196.7,300.7 197.2,301.0 197.8,303.9 198.3,307.1 198.9,306.1 199.4,305.3 199.9,307.2 200.5,312.2 201.0,314.8 201.6,307.2 202.1,302.8 202.7,307.0 203.2,307.2 203.7,301.7 204.3,298.5 204.8,303.7 205.4,306.1 205.9,298.7 206.5,294.1 207.0,301.7 207.5,305.0 208.1,300.2 208.6,298.5 209.2,307.2 209.7,311.5 210.3,306.0 210.8,302.8 211.3,306.4 211.9,307.2 212.4,304.2 213.0,305.0 213.5,314.3 214.1,319.1 214.6,312.1 215.1,308.3 215.7,311.2 216.2,311.5 216.8,307.7 217.3,306.1 217.9,305.1 218.4,300.7 218.9,296.7 219.5,295.2 220.0,303.3 220.6,307.2 221.1,307.2 221.7,311.5 222.2,313.3 222.7,312.6 223.3,309.1 223.8,308.3 224.4,308.2 224.9,303.9 225.5,305.8 226.0,311.5 226.5,311.5 227.1,307.2 227.6,302.5 228.2,300.7 228.7,302.9 229.3,302.8 229.8,299.3 230.3,298.5 230.9,301.7 231.4,300.7 232.0,300.9 232.5,303.9 233.1,303.2 233.6,299.6 234.1,299.6 234.7,302.8 235.2,303.3 235.8,300.7 236.3,301.3 236.9,305.0 237.4,305.1 237.9,300.7 238.5,301.1 239.0,303.9 239.6,302.2 240.1,298.5 240.7,308.1 241.2,322.4 241.7,313.2 242.3,299.6 242.8,298.8 243.4,302.8 243.9,306.6 244.5,307.2 245.0,308.1 245.5,313.7 246.1,314.9 246.6,311.5 247.2,317.3 247.7,325.6 248.3,319.5 248.8,309.3 249.3,305.6 249.9,306.1 250.4,311.3 251.0,312.6 251.5,309.8 252.1,310.4 252.6,308.6 253.1,303.9 253.7,305.2 254.2,309.3 254.8,309.5 255.3,307.2 255.9,308.8 256.4,312.6 256.9,315.0 257.5,313.7 258.0,308.0 258.6,305.0 259.1,308.2 259.7,307.2 260.2,304.5 260.7,303.9 261.3,307.3 261.8,306.1 262.4,302.5 262.9,302.8 263.5,310.0 264.2,312.6 264.7,305.5 265.3,302.8 265.8,311.6 266.3,315.9 266.9,309.2 267.4,306.1 268.0,306.0 268.5,303.9 269.1,305.1 269.6,310.4 270.1,308.9 270.7,305.0 271.2,309.0 271.8,315.9 272.3,312.9 272.9,306.1 273.4,306.5 273.9,310.4 274.5,314.7 275.0,315.9 275.6,305.4 276.1,299.6 276.7,298.2 277.2,293.1 277.7,298.7 278.3,307.2 278.8,311.8 279.4,313.7 279.9,301.2 280.5,293.1 281.0,303.9 281.5,311.5 282.1,307.3 282.6,307.2 283.2,311.9 283.7,313.7 284.3,309.7 284.8,308.3 285.3,313.2 285.9,314.8 286.4,310.5 287.0,310.4 287.5,314.4 288.1,315.9 288.6,315.9 289.1,320.2 289.7,319.8 290.2,314.8 290.8,313.7 291.3,316.9 291.9,315.3 292.4,309.3 292.9,307.3 293.5,307.2 294.0,309.6 294.6,308.3 295.1,305.0 295.7,306.1 296.2,309.8 296.7,311.5 297.3,307.5 297.8,306.1 298.4,310.7 298.9,312.6 299.5,306.5 300.0,303.9 300.5,308.7 301.1,310.4 301.6,312.6 302.2,318.0 302.7,312.5 303.3,302.8 303.8,310.6 304.3,320.2 304.9,315.8 305.4,309.3 306.0,306.6 306.5,306.1 307.1,306.1 307.6,303.9 308.1,301.2 308.7,300.7 309.2,305.7 309.8,306.1 310.3,302.3 310.9,302.8 311.4,306.1 311.9,307.2 312.5,307.7 313.0,311.5 313.6,309.1 314.1,303.9 314.7,304.1 315.2,307.2 315.7,310.3 316.3,310.4 316.8,310.7 317.4,314.8 317.9,310.6 318.5,302.8 319.0,303.5 319.5,307.2 320.1,311.7 320.6,313.7 321.2,310.6 321.7,310.4 322.3,308.9 322.8,305.0 323.3,301.1 323.9,300.7 324.4,301.0 325.0,297.4 325.5,305.1 326.1,315.9 326.6,308.3 327.1,298.5 327.7,300.0 328.2,303.9 328.8,308.7 329.3,310.4 329.9,311.9 330.4,316.9 330.9,312.0 331.5,302.8 332.0,304.6 332.6,309.3 333.1,308.7 333.7,303.9 334.2,303.7 334.7,307.2 335.3,312.6 335.8,314.8 336.4,311.7 336.9,311.5 337.5,311.0 338.0,307.2 338.5,307.9 339.1,312.6 339.6,310.9 340.2,306.1 340.7,303.6 341.3,305.0 341.8,311.5 342.3,314.8 342.9,310.7 343.4,309.3 344.0,310.0 344.5,307.2 345.1,307.9 345.6,312.6 346.1,314.8 346.7,314.8 347.2,310.5 347.8,309.3 348.3,311.5 348.9,310.4 349.4,310.4 349.9,314.8 350.5,316.5 351.0,313.7 351.6,313.8 352.1,316.9 352.7,315.4 353.2,309.3 353.7,306.7 354.3,308.3 354.8,308.0 355.4,305.0 355.9,308.8 356.5,315.9 357.0,312.1 357.5,306.1 358.1,305.6 358.6,309.3 359.2,314.0 359.7,314.8 360.3,309.3 360.8,308.3 361.3,313.1 361.9,313.7 362.4,307.4 363.0,305.0 363.5,308.6 364.1,308.3 364.6,308.7 365.1,312.6 365.7,312.1 366.2,309.3 366.8,306.5 367.3,307.2 367.9,309.8 368.4,310.4 368.9,307.6 369.5,307.2 370.0,306.0 370.6,300.7 371.1,299.1 371.7,299.6 372.2,305.0 372.7,308.3 373.3,305.0 373.8,303.9 374.4,307.2 374.9,306.1 375.6,308.3 376.2,313.0 376.8,316.2 377.3,317.4 377.9,312.4 378.4,311.9 379.0,311.9 379.5,309.6 380.1,304.7 380.6,304.1 381.2,303.8 381.7,299.7 382.3,299.7 382.8,304.1 383.4,308.7 383.9,308.5 384.5,300.7 385.0,296.4 385.6,305.7 386.2,310.7 386.7,304.8 387.3,300.8 387.8,301.8 388.4,298.6 388.9,301.3 389.5,307.4 390.0,315.5 390.6,319.6 391.1,309.6 391.7,301.9 392.2,310.6 392.8,315.2 393.3,307.9 393.9,305.2 394.4,305.7 395.0,304.1 395.5,304.9 396.1,308.5 396.6,307.0 397.2,301.9 397.8,295.9 398.3,294.2 398.9,294.9 399.4,293.1 400.0,293.5 400.5,296.4 401.1,299.9 401.6,300.8 402.2,301.2 402.7,305.2 403.3,311.1 403.8,313.0 404.4,308.7 404.9,307.4 405.5,311.1 406.0,311.9 406.6,308.1 407.1,307.4 407.7,309.5 408.2,308.5 408.8,309.7 409.4,314.1 409.9,311.3 410.5,306.3 411.0,302.4 411.6,301.9 412.1,301.5 412.7,296.4 413.2,292.1 413.8,290.9 414.3,296.2 414.9,297.5 415.4,296.9 416.0,298.6 416.5,303.3 417.1,304.1 417.6,297.1 418.2,294.2 418.7,298.3 419.3,298.6 419.8,304.6 420.4,314.1 421.0,306.3 421.5,295.3 422.1,298.4 422.6,305.2 423.2,302.5 423.7,295.3 424.3,296.3 424.8,299.7 425.4,298.0 425.9,294.2 426.5,297.1 427.0,304.1 427.6,298.7 428.1,288.7 428.7,299.7 429.2,314.1 429.8,309.6 430.3,301.9 430.9,303.8 431.4,309.6 432.0,308.1 432.6,304.1 433.1,306.1 433.7,310.7 434.2,308.7 434.8,304.1 435.3,304.0 435.9,307.4 436.4,307.7 437.0,305.2 437.5,300.1 438.1,297.5 438.6,307.2 439.2,313.0 439.7,306.2 440.3,304.1 440.8,304.4 441.4,301.9 441.9,296.6 442.5,295.3 443.0,295.2 443.6,292.0 444.2,299.2 444.7,310.7 445.3,309.2 445.8,304.1 446.4,303.9 446.9,306.3 447.5,312.0 448.0,315.2 448.6,308.7 449.1,304.1 449.7,309.1 450.2,310.7 450.8,308.1 451.3,308.5 451.9,308.1 452.4,305.2 453.0,307.6 453.5,313.0 454.1,311.1 454.6,306.3 455.2,306.5 455.7,310.7 456.3,310.3 456.9,307.4 457.4,308.9 458.0,315.2 458.5,314.1 459.1,309.6 459.6,310.0 460.2,314.1 460.7,314.6 461.3,311.9 461.8,308.0 462.4,308.5 462.9,312.9 463.5,313.0 464.0,314.5 464.6,319.6 465.1,317.4 465.7,311.9 466.2,311.5 466.8,315.2 467.3,314.6 467.9,309.6 468.5,309.2 469.0,311.9 469.6,312.2 470.1,308.5 470.7,304.5 471.2,305.2 471.8,309.1 472.3,309.6 472.9,311.7 473.4,316.3 474.0,313.2 474.5,307.4 475.1,308.2 475.6,313.0 476.2,317.1 476.7,317.4 477.3,310.6 477.8,308.5 478.4,311.8 478.9,310.7 479.5,311.7 480.1,315.2 480.6,312.5 481.2,307.4 481.7,308.9 482.3,313.0 482.8,312.0 483.4,308.5 483.9,308.2 484.5,311.9 485.0,310.7 485.6,305.2 486.1,305.2 486.7,309.6 487.2,309.9 487.8,307.4 488.3,306.9 488.9,310.7"/>
<polyline stroke="#000000" points="39.1,263.7 40.2,254.0 41.3,256.1 42.3,255.1 43.4,257.2 44.5,255.1 45.6,260.5 46.7,265.9 47.8,261.6 48.9,261.6 49.9,262.7 51.0,265.9 52.1,268.1 53.2,250.7 54.3,251.8 55.4,251.8 56.5,247.5 57.5,242.0 58.6,237.7 59.7,246.4 60.8,250.7 61.9,249.6 63.0,261.6 64.1,232.3 65.1,246.4 66.2,257.2 67.3,251.8 68.4,252.9 69.5,256.1 70.6,278.9 71.7,271.3 72.7,261.6 73.8,267.0 74.9,274.6 76.0,263.7 77.1,239.9 78.2,262.7 79.3,250.7 80.3,251.8 81.4,257.2 82.5,275.7 83.6,274.6 84.7,269.2 85.8,265.9 86.9,249.6 87.9,247.5 89.0,256.1 90.1,272.4 91.2,273.5 92.3,268.1 93.4,263.7 94.5,261.6 95.5,260.5 96.6,267.0 97.7,268.1 98.8,269.2 99.9,269.2 101.0,272.4 102.1,276.8 103.1,281.1 104.2,276.8 105.3,270.3 106.4,264.8 107.5,261.6 108.6,259.4 109.7,267.0 110.7,281.1 111.8,282.2 112.9,281.1 114.0,281.1 115.1,273.5 116.2,274.6 117.3,274.6 118.3,270.3 119.4,272.4 120.5,271.3 121.6,270.3 122.7,273.5 123.8,278.9 124.9,281.1 125.9,286.5 127.0,292.0 128.1,297.4 129.2,294.1 130.3,282.2 131.4,272.4 132.5,274.6 133.5,277.9 134.6,273.5 135.7,267.0 136.8,264.8 137.9,264.8 139.0,271.3 140.1,272.4 141.1,271.3 142.2,269.2 143.3,265.9 144.4,278.9 145.5,283.3 146.6,281.1 147.7,282.2 148.7,281.1 149.8,271.3 150.9,277.9 152.2,287.6 153.3,286.5 154.3,281.1 155.4,275.7 156.5,267.0 157.6,263.7 158.7,267.0 159.8,275.7 160.9,270.3 161.9,274.6 163.0,267.0 164.1,257.2 165.2,249.6 166.3,264.8 167.4,259.4 168.5,256.1 169.5,261.6 170.6,258.3 171.7,256.1 172.8,259.4 173.9,261.6 175.0,262.7 176.1,259.4 177.1,254.0 178.2,255.1 179.3,258.3 180.4,262.7 181.5,263.7 182.6,264.8 183.7,267.0 184.7,270.3 185.8,273.5 186.9,277.9 188.0,280.0 189.1,274.6 190.2,274.6 191.3,276.8 192.3,272.4 193.4,263.7 194.5,258.3 195.6,278.9 196.7,292.0 197.8,294.1 198.9,292.0 199.9,287.6 201.0,271.3 202.1,249.6 203.2,277.9 204.3,280.0 205.4,281.1 206.5,282.2 207.5,281.1 208.6,283.3 209.7,283.3 210.8,281.1 211.9,278.9 213.0,284.4 214.1,286.5 215.1,290.9 216.2,272.4 217.3,268.1 218.4,264.8 219.5,268.1 220.6,249.6 221.7,257.2 222.7,276.8 223.8,280.0 224.9,263.7 226.0,280.0 227.1,272.4 228.2,263.7 229.3,275.7 230.3,278.9 231.4,275.7 232.5,280.0 233.6,281.1 234.7,284.4 235.8,287.6 236.9,271.3 237.9,290.9 239.0,262.7 240.1,288.7 241.2,292.0 242.3,283.3 243.4,265.9 244.5,290.9 245.5,290.9 246.6,288.7 247.7,285.5 248.8,282.2 249.9,280.0 251.0,276.8 252.1,284.4 253.1,286.5 254.2,290.9 255.3,287.6 256.4,285.5 257.5,283.3 258.6,287.6 259.7,278.9 260.7,272.4 261.8,273.5 262.9,278.9 264.2,277.9 265.3,280.0 266.3,275.7 267.4,281.1 268.5,283.3 269.6,289.8 270.7,278.9 271.8,264.8 272.9,271.3 273.9,265.9 275.0,259.4 276.1,254.0 277.2,256.1 278.3,275.7 279.4,268.1 280.5,269.2 281.5,271.3 282.6,275.7 283.7,269.2 284.8,264.8 285.9,260.5 287.0,261.6 288.1,270.3 289.1,275.7 290.2,277.9 291.3,269.2 292.4,264.8 293.5,262.7 294.6,263.7 295.7,265.9 296.7,267.0 297.8,269.2 298.9,272.4 300.0,275.7 301.1,267.0 302.2,260.5 303.3,262.7 304.3,260.5 305.4,256.1 306.5,263.7 307.6,267.0 308.7,268.1 309.8,277.9 310.9,283.3 311.9,292.0 313.0,288.7 314.1,281.1 315.2,284.4 316.3,277.9 317.4,286.5 318.5,287.6 319.5,283.3 320.6,288.7 321.7,282.2 322.8,287.6 323.9,270.3 325.0,263.7 326.1,275.7 327.1,272.4 328.2,264.8 329.3,259.4 330.4,261.6 331.5,263.7 332.6,263.7 333.7,265.9 334.7,272.4 335.8,281.1 336.9,280.0 338.0,280.0 339.1,276.8 340.2,284.4 341.3,285.5 342.3,269.2 343.4,261.6 344.5,257.2 345.6,246.4 346.7,244.2 347.8,252.9 348.9,262.7 349.9,263.7 351.0,275.7 352.1,274.6 353.2,264.8 354.3,257.2 355.4,258.3 356.5,256.1 357.5,255.1 358.6,254.0 359.7,254.0 360.8,256.1 361.9,257.2 363.0,262.7 364.1,256.1 365.1,257.2 366.2,261.6 367.3,258.3 368.4,261.6 369.5,259.4 370.6,256.1 371.7,235.5 372.7,272.4 373.8,265.9 374.9,268.1 376.2,263.2 377.3,262.1 378.4,272.1 379.5,266.6 380.6,263.2 381.7,266.6 382.8,271.0 383.9,268.8 385.0,275.4 386.2,284.2 387.3,267.7 388.4,256.6 389.5,253.3 390.6,241.2 391.7,255.5 392.8,248.9 393.9,243.4 395.0,237.8 396.1,266.6 397.2,273.2 398.3,271.0 399.4,265.5 400.5,250.0 401.6,267.7 402.7,272.1 403.8,262.1 404.9,267.7 406.0,279.8 407.1,284.2 408.2,278.7 409.4,283.1 410.5,274.3 411.6,264.4 412.7,285.3 413.8,282.0 414.9,272.1 416.0,279.8 417.1,273.2 418.2,284.2 419.3,276.5 420.4,272.1 421.5,267.7 422.6,273.2 423.7,278.7 424.8,276.5 425.9,266.6 427.0,256.6 428.1,279.8 429.2,279.8 430.3,278.7 431.4,282.0 432.6,276.5 433.7,286.4 434.8,282.0 435.9,271.0 437.0,288.7 438.1,295.3 439.2,264.4 440.3,286.4 441.4,289.8 442.5,275.4 443.6,267.7 444.7,257.7 445.8,265.5 446.9,275.4 448.0,279.8 449.1,285.3 450.2,282.0 451.3,272.1 452.4,267.7 453.5,255.5 454.6,278.7 455.7,301.9 456.9,286.4 458.0,280.9 459.1,285.3 460.2,283.1 461.3,297.5 462.4,305.2 463.5,292.0 464.6,287.6 465.7,293.1 466.8,286.4 467.9,285.3 469.0,282.0 470.1,278.7 471.2,282.0 472.3,283.1 473.4,278.7 474.5,284.2 475.6,280.9 476.7,282.0 477.8,278.7 478.9,277.6 480.1,279.8 481.2,282.0 482.3,277.6 483.4,272.1 484.5,255.5 485.6,257.7 486.7,263.2 487.8,267.7 488.9,273.2"/>
</g>
<g clip-path="url(#c3)" fill="none" stroke-width="1.3" stroke-linejoin="round">
<polyline stroke="#ffa500" stroke-width="1.05" points="39.1,390.3 39.6,394.8 40.2,397.9 40.7,399.5 41.3,402.3 41.8,404.1 42.3,404.4 42.9,403.3 43.4,403.3 44.0,405.0 44.5,405.5 45.1,403.7 45.6,403.3 46.1,405.0 46.7,404.4 47.2,401.7 47.8,401.2 48.3,401.7 48.9,400.1 49.4,401.1 49.9,403.3 50.5,404.8 51.0,404.4 51.6,402.7 52.1,402.3 52.7,402.9 53.2,402.3 53.7,402.8 54.3,404.4 54.8,403.4 55.4,401.2 55.9,399.5 56.5,400.1 57.0,401.7 57.5,401.2 58.1,401.2 58.6,403.3 59.2,404.9 59.7,404.4 60.3,401.1 60.8,399.0 61.3,398.6 61.9,396.8 62.4,391.6 63.0,388.1 63.5,386.4 64.1,382.7 64.6,384.3 65.1,388.1 65.7,390.3 66.2,390.3 66.8,390.9 67.3,392.5 67.9,391.2 68.4,388.1 68.9,386.1 69.5,386.0 70.0,385.7 70.6,383.8 71.1,385.4 71.7,388.1 72.2,391.1 72.7,392.5 73.3,389.8 73.8,388.1 74.4,390.4 74.9,390.3 75.5,389.8 76.0,391.4 76.5,389.6 77.1,386.0 77.6,384.2 78.2,383.8 78.7,387.1 79.3,388.1 79.8,389.4 80.3,392.5 80.9,393.1 81.4,391.4 82.0,391.9 82.5,394.7 83.1,394.4 83.6,392.5 84.1,392.8 84.7,394.7 85.2,393.4 85.8,390.3 86.3,387.4 86.9,386.0 87.4,390.4 87.9,393.6 88.5,393.4 89.0,394.7 89.6,394.6 90.1,392.5 90.7,389.8 91.2,388.1 91.7,392.5 92.3,395.7 92.8,393.2 93.4,392.5 93.9,394.3 94.5,394.7 95.0,393.3 95.5,393.6 96.1,395.5 96.6,395.7 97.2,393.4 97.7,392.5 98.3,394.2 98.8,393.6 99.3,394.6 99.9,396.8 100.4,396.5 101.0,394.7 101.5,392.9 102.1,392.5 102.6,391.8 103.1,389.2 103.7,389.1 104.2,390.3 104.8,389.4 105.3,387.1 105.9,385.0 106.4,384.9 106.9,384.5 107.5,382.7 108.0,380.7 108.6,380.5 109.1,384.4 109.7,386.0 110.2,386.5 110.7,388.1 111.3,390.8 111.8,392.5 112.4,389.7 112.9,388.1 113.5,391.3 114.0,392.5 114.5,390.5 115.1,390.3 115.6,389.9 116.2,388.1 116.7,388.5 117.3,390.3 117.8,389.8 118.3,388.1 118.9,386.8 119.4,387.1 120.0,389.2 120.5,390.3 121.1,387.2 121.6,386.0 122.1,391.4 122.7,394.7 123.2,392.4 123.8,392.5 124.3,393.0 124.9,391.4 125.4,390.8 125.9,392.5 126.5,390.8 127.0,388.1 127.6,388.5 128.1,390.3 128.7,394.8 129.2,396.8 129.7,394.7 130.3,394.7 130.8,394.9 131.4,393.6 131.9,390.2 132.5,389.2 133.0,389.6 133.5,388.1 134.1,386.5 134.6,387.1 135.2,387.2 135.7,386.0 136.3,384.8 136.8,384.9 137.3,386.8 137.9,387.1 138.4,387.0 139.0,388.1 139.5,387.8 140.1,386.0 140.6,382.1 141.1,380.5 141.7,378.6 142.2,375.1 142.8,373.5 143.3,372.9 143.9,384.3 144.4,394.7 144.9,396.2 145.5,399.0 146.0,399.5 146.6,397.9 147.1,396.6 147.7,396.8 148.2,398.6 148.7,399.0 149.3,397.9 149.8,397.9 150.4,398.6 150.9,396.8 151.5,395.0 152.2,394.7 152.7,397.5 153.3,399.0 153.8,396.3 154.3,394.7 154.9,396.3 155.4,396.8 156.0,396.8 156.5,397.9 157.1,396.7 157.6,393.6 158.1,392.4 158.7,392.5 159.2,395.7 159.8,397.9 160.3,396.5 160.9,396.8 161.4,398.0 161.9,397.9 162.5,395.1 163.0,394.7 163.6,397.4 164.1,399.0 164.7,397.1 165.2,396.8 165.7,398.4 166.3,397.9 166.8,395.0 167.4,393.6 167.9,394.2 168.5,392.5 169.0,395.5 169.5,400.1 170.1,399.1 170.6,396.8 171.2,397.1 171.7,399.0 172.3,399.0 172.8,397.9 173.3,396.0 173.9,395.7 174.4,395.9 175.0,394.7 175.5,394.1 176.1,395.7 176.6,397.9 177.1,397.9 177.7,396.5 178.2,396.8 178.8,399.0 179.3,400.1 179.9,400.5 180.4,402.3 180.9,401.3 181.5,399.0 182.0,397.3 182.6,396.8 183.1,394.2 183.7,390.3 184.2,388.1 184.7,388.1 185.3,392.0 185.8,394.7 186.4,396.3 186.9,399.0 187.5,394.7 188.0,388.1 188.5,390.5 189.1,394.7 189.6,396.9 190.2,396.8 190.7,399.9 191.3,404.4 191.8,403.4 192.3,400.1 192.9,398.1 193.4,397.9 194.0,395.2 194.5,390.3 195.1,388.8 195.6,389.2 196.1,395.0 196.7,399.0 197.2,399.5 197.8,401.2 198.3,402.9 198.9,403.3 199.4,400.1 199.9,399.0 200.5,402.3 201.0,403.3 201.6,402.7 202.1,404.4 202.7,403.5 203.2,401.2 203.7,402.4 204.3,405.5 204.8,403.9 205.4,400.1 205.9,400.2 206.5,402.3 207.0,402.2 207.5,400.1 208.1,399.8 208.6,401.2 209.2,401.0 209.7,399.0 210.3,398.6 210.8,400.1 211.3,399.7 211.9,397.9 212.4,396.2 213.0,396.8 213.5,395.3 214.1,391.4 214.6,394.7 215.1,399.0 215.7,400.7 216.2,400.1 216.8,399.5 217.3,401.2 217.9,401.1 218.4,399.0 218.9,397.4 219.5,396.8 220.0,398.5 220.6,397.9 221.1,400.1 221.7,403.3 222.2,407.8 222.7,409.9 223.3,410.0 223.8,412.0 224.4,412.0 224.9,410.9 225.5,407.6 226.0,405.5 226.5,403.7 227.1,400.1 227.6,398.1 228.2,397.9 228.7,398.4 229.3,396.8 229.8,397.3 230.3,400.1 230.9,402.9 231.4,404.4 232.0,402.3 232.5,401.2 233.1,401.2 233.6,399.0 234.1,400.1 234.7,402.3 235.2,403.9 235.8,403.3 236.3,400.1 236.9,397.9 237.4,397.4 237.9,394.7 238.5,384.9 239.0,377.3 239.6,387.6 240.1,395.7 240.7,395.4 241.2,396.8 241.7,398.5 242.3,397.9 242.8,398.4 243.4,400.1 243.9,401.6 244.5,401.2 245.0,396.1 245.5,392.5 246.1,387.1 246.6,379.5 247.2,350.2 247.7,323.0 248.3,337.9 248.8,351.2 249.3,367.7 249.9,386.0 250.4,388.6 251.0,390.3 251.5,388.7 252.1,388.1 252.6,384.2 253.1,378.4 253.7,382.4 254.2,388.1 254.8,390.3 255.3,390.3 255.9,385.1 256.4,381.6 256.9,383.3 257.5,383.8 258.0,386.3 258.6,390.3 259.1,395.2 259.7,397.9 260.2,399.8 260.7,403.3 261.3,401.7 261.8,399.0 262.4,401.2 262.9,405.5 263.5,406.6 264.2,405.5 264.7,406.1 265.3,407.7 265.8,409.6 266.3,409.9 266.9,409.7 267.4,410.9 268.0,410.9 268.5,408.8 269.1,407.5 269.6,407.7 270.1,407.8 270.7,406.6 271.2,404.7 271.8,404.4 272.3,406.7 272.9,406.6 273.4,407.7 273.9,409.9 274.5,408.3 275.0,405.5 275.6,400.8 276.1,397.9 276.7,400.7 277.2,401.2 277.7,398.2 278.3,396.8 278.8,400.3 279.4,402.3 279.9,403.3 280.5,406.6 281.0,407.1 281.5,405.5 282.1,406.6 282.6,408.8 283.2,409.3 283.7,407.7 284.3,406.5 284.8,406.6 285.3,408.4 285.9,408.8 286.4,406.1 287.0,405.5 287.5,407.4 288.1,407.7 288.6,411.0 289.1,416.4 289.7,415.9 290.2,414.2 290.8,413.6 291.3,415.3 291.9,414.8 292.4,413.1 292.9,412.0 293.5,412.0 294.0,412.9 294.6,412.0 295.1,410.8 295.7,410.9 296.2,400.4 296.7,388.1 297.3,384.3 297.8,382.7 298.4,382.6 298.9,380.5 299.5,386.0 300.0,392.5 300.5,396.5 301.1,399.0 301.6,401.9 302.2,406.6 302.7,405.3 303.3,402.3 303.8,402.4 304.3,404.4 304.9,406.3 305.4,406.6 306.0,405.5 306.5,405.5 307.1,405.1 307.6,403.3 308.1,400.6 308.7,400.1 309.2,403.5 309.8,405.5 310.3,405.6 310.9,407.7 311.4,408.3 311.9,406.6 312.5,406.2 313.0,407.7 313.6,409.2 314.1,408.8 314.7,408.4 315.2,409.9 315.7,411.1 316.3,410.9 316.8,409.3 317.4,409.9 317.9,411.2 318.5,410.9 319.0,409.3 319.5,409.9 320.1,411.1 320.6,410.9 321.2,409.8 321.7,410.9 322.3,412.5 322.8,412.0 323.3,410.0 323.9,409.9 324.4,410.7 325.0,409.9 325.5,409.8 326.1,410.9 326.6,412.5 327.1,412.0 327.7,411.8 328.2,413.1 328.8,413.5 329.3,412.0 329.9,412.0 330.4,413.1 330.9,414.2 331.5,414.2 332.0,413.6 332.6,414.2 333.1,415.8 333.7,415.3 334.2,413.1 334.7,412.0 335.3,414.8 335.8,415.3 336.4,415.1 336.9,416.4 337.5,417.8 338.0,417.5 338.5,412.9 339.1,409.9 339.6,409.2 340.2,406.6 340.7,406.6 341.3,407.7 341.8,407.4 342.3,405.5 342.9,401.1 343.4,399.0 344.0,405.0 344.5,409.9 345.1,411.1 345.6,414.2 346.1,415.5 346.7,415.3 347.2,415.1 347.8,416.4 348.3,417.4 348.9,417.5 349.4,416.4 349.9,416.4 350.5,417.5 351.0,416.4 351.6,414.8 352.1,415.3 352.7,416.9 353.2,416.4 353.7,415.9 354.3,417.5 354.8,417.5 355.4,415.3 355.9,415.2 356.5,416.4 357.0,416.2 357.5,414.2 358.1,412.8 358.6,413.1 359.2,413.5 359.7,412.0 360.3,412.5 360.8,415.3 361.3,415.8 361.9,414.2 362.4,411.9 363.0,412.0 363.5,411.5 364.1,409.9 364.6,411.1 365.1,414.2 365.7,414.1 366.2,412.0 366.8,412.1 367.3,414.2 367.9,413.5 368.4,410.9 368.9,409.3 369.5,409.9 370.0,405.1 370.6,399.0 371.1,401.1 371.7,405.5 372.2,403.0 372.7,399.0 373.3,399.2 373.8,401.2 374.4,404.5 374.9,405.5 375.6,403.0 376.2,402.5 376.8,396.6 377.3,389.3 377.9,379.8 378.4,371.6 379.0,371.8 379.5,370.5 380.1,375.6 380.6,382.7 381.2,396.6 381.7,408.1 382.3,408.0 382.8,410.3 383.4,410.5 383.9,409.2 384.5,409.5 385.0,411.4 385.6,413.0 386.2,412.5 386.7,412.4 387.3,413.6 387.8,415.5 388.4,415.8 388.9,414.8 389.5,414.7 390.0,414.8 390.6,413.6 391.1,413.8 391.7,415.8 392.2,416.2 392.8,414.7 393.3,412.7 393.9,412.5 394.4,412.7 395.0,411.4 395.5,411.3 396.1,413.6 396.6,415.6 397.2,415.8 397.8,414.7 398.3,414.7 398.9,416.3 399.4,416.9 400.0,416.3 400.5,418.0 401.1,415.3 401.6,410.3 402.2,407.5 402.7,407.0 403.3,408.4 403.8,408.1 404.4,409.0 404.9,411.4 405.5,409.7 406.0,407.0 406.6,404.1 407.1,402.5 407.7,396.6 408.2,389.3 408.8,374.3 409.4,361.7 409.9,364.4 410.5,365.0 411.0,374.4 411.6,386.0 412.1,387.1 412.7,387.1 413.2,384.2 413.8,382.7 414.3,382.2 414.9,380.4 415.4,385.9 416.0,393.7 416.5,392.1 417.1,389.3 417.6,386.0 418.2,384.9 418.7,381.4 419.3,376.0 419.8,371.8 420.4,369.4 421.0,386.0 421.5,400.3 422.1,403.0 422.6,407.0 423.2,408.9 423.7,409.2 424.3,410.8 424.8,413.6 425.4,415.8 425.9,416.9 426.5,415.8 427.0,415.8 427.6,414.3 428.1,411.4 428.7,411.9 429.2,413.6 429.8,413.6 430.3,412.5 430.9,410.2 431.4,410.3 432.0,412.6 432.6,413.6 433.1,411.4 433.7,411.4 434.2,413.5 434.8,413.6 435.3,412.0 435.9,412.5 436.4,412.9 437.0,411.4 437.5,411.9 438.1,414.7 438.6,414.1 439.2,411.4 439.7,404.9 440.3,400.3 440.8,402.3 441.4,402.5 441.9,405.4 442.5,410.3 443.0,410.2 443.6,408.1 444.2,403.3 444.7,400.3 445.3,396.8 445.8,391.5 446.4,395.9 446.9,401.4 447.5,404.2 448.0,404.7 448.6,379.6 449.1,356.1 449.7,351.7 450.2,346.2 450.8,346.7 451.3,348.4 451.9,364.4 452.4,378.2 453.0,383.1 453.5,389.3 454.1,392.8 454.6,394.8 455.2,394.4 455.7,395.9 456.3,395.9 456.9,393.7 457.4,391.9 458.0,391.5 458.5,391.1 459.1,389.3 459.6,389.6 460.2,391.5 460.7,390.9 461.3,389.3 461.8,389.3 462.4,391.5 462.9,394.2 463.5,395.9 464.0,397.0 464.6,400.3 465.1,403.1 465.7,404.7 466.2,407.5 466.8,411.4 467.3,413.6 467.9,413.6 468.5,412.0 469.0,412.5 469.6,412.0 470.1,410.3 470.7,407.7 471.2,407.0 471.8,408.3 472.3,408.1 472.9,408.7 473.4,411.4 474.0,411.4 474.5,410.3 475.1,407.0 475.6,405.9 476.2,393.2 476.7,378.2 477.3,362.9 477.8,349.5 478.4,362.8 478.9,373.8 479.5,389.2 480.1,407.0 480.6,409.4 481.2,410.3 481.7,405.3 482.3,402.5 482.8,402.0 483.4,399.2 483.9,401.1 484.5,404.7 485.0,408.6 485.6,411.4 486.1,411.6 486.7,413.6 487.2,413.6 487.8,411.4 488.3,409.0 488.9,408.1"/>
<polyline stroke="#3000e0" points="39.1,342.5 40.2,343.6 41.3,344.7 42.3,346.9 43.4,366.4 44.5,353.4 45.6,350.1 46.7,349.1 47.8,348.0 48.9,350.1 49.9,348.0 51.0,350.1 52.1,346.9 53.2,349.1 54.3,351.2 55.4,349.1 56.5,352.3 57.5,354.5 58.6,351.2 59.7,348.0 60.8,350.1 61.9,352.3 63.0,351.2 64.1,357.7 65.1,351.2 66.2,349.1 67.3,351.2 68.4,354.5 69.5,350.1 70.6,346.9 71.7,350.1 72.7,352.3 73.8,348.0 74.9,350.1 76.0,351.2 77.1,361.0 78.2,353.4 79.3,352.3 80.3,355.6 81.4,354.5 82.5,353.4 83.6,370.8 84.7,355.6 85.8,352.3 86.9,351.2 87.9,354.5 89.0,349.1 90.1,344.7 91.2,343.6 92.3,348.0 93.4,356.7 94.5,355.6 95.5,353.4 96.6,351.2 97.7,344.7 98.8,341.5 99.9,340.4 101.0,340.4 102.1,341.5 103.1,343.6 104.2,346.9 105.3,350.1 106.4,353.4 107.5,355.6 108.6,357.7 109.7,355.6 110.7,352.3 111.8,350.1 112.9,352.3 114.0,357.7 115.1,362.1 116.2,357.7 117.3,353.4 118.3,354.5 119.4,350.1 120.5,353.4 121.6,354.5 122.7,353.4 123.8,351.2 124.9,350.1 125.9,349.1 127.0,346.9 128.1,344.7 129.2,348.0 130.3,349.1 131.4,346.9 132.5,350.1 133.5,349.1 134.6,351.2 135.7,353.4 136.8,355.6 137.9,352.3 139.0,353.4 140.1,351.2 141.1,351.2 142.2,352.3 143.3,353.4 144.4,352.3 145.5,351.2 146.6,348.0 147.7,345.8 148.7,349.1 149.8,352.3 150.9,353.4 152.2,354.5 153.3,355.6 154.3,358.8 155.4,357.7 156.5,361.0 157.6,364.3 158.7,359.9 159.8,353.4 160.9,350.1 161.9,354.5 163.0,355.6 164.1,358.8 165.2,362.1 166.3,361.0 167.4,361.0 168.5,358.8 169.5,352.3 170.6,349.1 171.7,353.4 172.8,355.6 173.9,350.1 175.0,352.3 176.1,355.6 177.1,358.8 178.2,356.7 179.3,354.5 180.4,353.4 181.5,355.6 182.6,357.7 183.7,355.6 184.7,353.4 185.8,351.2 186.9,350.1 188.0,353.4 189.1,350.1 190.2,349.1 191.3,351.2 192.3,350.1 193.4,351.2 194.5,351.2 195.6,345.8 196.7,341.5 197.8,340.4 198.9,342.5 199.9,345.8 201.0,346.9 202.1,349.1 203.2,344.7 204.3,350.1 205.4,344.7 206.5,348.0 207.5,343.6 208.6,341.5 209.7,349.1 210.8,351.2 211.9,345.8 213.0,346.9 214.1,344.7 215.1,344.7 216.2,351.2 217.3,357.7 218.4,362.1 219.5,365.3 220.6,363.2 221.7,353.4 222.7,349.1 223.8,363.2 224.9,357.7 226.0,350.1 227.1,359.9 228.2,368.6 229.3,355.6 230.3,350.1 231.4,359.9 232.5,351.2 233.6,349.1 234.7,354.5 235.8,350.1 236.9,346.9 237.9,343.6 239.0,355.6 240.1,349.1 241.2,343.6 242.3,345.8 243.4,355.6 244.5,349.1 245.5,344.7 246.6,346.9 247.7,349.1 248.8,348.0 249.9,350.1 251.0,363.2 252.1,353.4 253.1,351.2 254.2,351.2 255.3,350.1 256.4,350.1 257.5,351.2 258.6,354.5 259.7,357.7 260.7,359.9 261.8,362.1 262.9,359.9 264.2,357.7 265.3,356.7 266.3,354.5 267.4,353.4 268.5,354.5 269.6,356.7 270.7,361.0 271.8,363.2 272.9,362.1 273.9,363.2 275.0,364.3 276.1,365.3 277.2,363.2 278.3,357.7 279.4,356.7 280.5,358.8 281.5,359.9 282.6,358.8 283.7,361.0 284.8,362.1 285.9,363.2 287.0,365.3 288.1,368.6 289.1,361.0 290.2,359.9 291.3,358.8 292.4,361.0 293.5,357.7 294.6,356.7 295.7,357.7 296.7,356.7 297.8,357.7 298.9,358.8 300.0,357.7 301.1,361.0 302.2,357.7 303.3,361.0 304.3,363.2 305.4,359.9 306.5,377.3 307.2,383.8 308.0,366.4 308.7,363.2 309.8,361.0 310.9,362.1 311.9,358.8 313.0,357.7 314.1,356.7 315.2,358.8 316.3,358.8 317.4,357.7 318.5,356.7 319.5,357.7 320.6,355.6 321.7,358.8 322.8,362.1 323.9,363.2 325.0,365.3 326.1,364.3 327.1,365.3 328.2,368.6 329.3,374.0 330.4,369.7 331.5,372.9 332.6,368.6 333.7,365.3 334.7,358.8 335.8,355.6 336.9,354.5 338.0,355.6 339.1,353.4 340.2,353.4 341.3,352.3 342.3,353.4 343.4,356.7 344.5,369.7 345.6,363.2 346.7,368.6 347.8,364.3 348.9,359.9 349.9,358.8 351.0,358.8 352.1,361.0 353.2,364.3 354.3,364.3 355.4,365.3 356.5,367.5 357.5,368.6 358.6,369.7 359.7,367.5 360.8,370.8 361.9,365.3 363.0,366.4 364.1,369.7 365.1,365.3 366.2,366.4 367.3,369.7 368.4,366.4 369.5,364.3 370.6,364.3 371.7,363.2 372.7,361.0 373.8,363.2 374.9,363.2 376.2,365.0 377.3,363.9 378.4,362.8 379.5,361.7 380.6,363.9 381.7,361.7 382.8,362.8 383.9,363.9 385.0,360.6 386.2,361.7 387.3,369.4 388.4,367.2 389.5,366.1 390.6,368.3 391.7,369.4 392.8,370.5 393.9,367.2 395.0,370.5 396.1,373.8 397.2,367.2 398.3,365.0 399.4,361.7 400.5,362.8 401.6,365.0 402.7,363.9 403.8,361.7 404.9,358.4 406.0,357.2 407.1,359.5 408.2,360.6 409.4,360.6 410.5,361.7 411.6,361.7 412.7,362.8 413.8,363.9 414.9,361.7 416.0,368.3 417.1,366.1 418.2,367.2 419.3,368.3 420.4,368.3 421.5,370.5 422.6,369.4 423.7,370.5 424.8,368.3 425.9,371.6 427.0,376.0 428.1,370.5 429.2,369.4 430.3,368.3 431.4,370.5 432.6,367.2 433.7,368.3 434.8,370.5 435.9,372.7 437.0,376.0 438.1,373.8 439.2,370.5 440.3,369.4 441.4,371.6 442.5,372.7 443.6,374.9 444.7,370.5 445.8,370.5 446.9,371.6 448.0,368.3 449.1,366.1 450.2,368.3 451.3,370.5 452.4,372.7 453.5,374.9 454.6,368.3 455.7,367.2 456.9,368.3 458.0,366.1 459.1,363.9 460.2,362.8 461.3,365.0 462.4,366.1 463.5,367.2 464.6,366.1 465.7,366.1 466.8,368.3 467.9,369.4 469.0,370.5 470.1,369.4 471.2,372.7 472.3,373.8 473.4,371.6 474.5,372.7 475.6,372.7 476.7,370.5 477.8,371.6 478.9,369.4 480.1,372.7 481.2,370.5 482.3,366.1 483.4,372.7 484.5,373.8 485.6,377.1 486.7,379.3 487.8,376.0 488.9,377.1"/>
<polyline stroke="#ff0000" points="39.1,372.9 40.2,375.1 41.3,382.7 42.3,379.5 43.4,374.0 44.5,366.4 45.6,375.1 46.7,372.9 47.8,371.9 48.9,377.3 49.9,380.5 51.0,375.1 52.1,381.6 53.2,388.1 54.3,386.0 55.4,388.1 56.5,387.1 57.5,386.0 58.6,384.9 59.7,383.8 60.8,386.0 61.9,383.8 63.0,381.6 64.1,383.8 65.1,386.0 66.2,380.5 67.3,388.1 68.4,381.6 69.5,383.8 70.6,376.2 71.7,380.5 72.7,384.9 73.8,386.0 74.9,382.7 76.0,386.0 77.1,388.1 78.2,387.1 79.3,389.2 80.3,388.1 81.4,390.3 82.5,389.2 83.6,390.3 84.7,388.1 85.8,390.3 86.9,386.0 87.9,388.1 89.0,392.5 90.1,382.7 91.2,381.6 92.3,389.2 93.4,384.9 94.5,381.6 95.5,383.8 96.6,387.1 97.7,382.7 98.8,383.8 99.9,381.6 101.0,380.5 102.1,379.5 103.1,377.3 104.2,380.5 105.3,381.6 106.4,382.7 107.5,383.8 108.6,387.1 109.7,381.6 110.7,386.0 111.8,384.9 112.9,382.7 114.0,386.0 115.1,387.1 116.2,386.0 117.3,384.9 118.3,380.5 119.4,383.8 120.5,380.5 121.6,379.5 122.7,375.1 123.8,371.9 124.9,368.6 125.9,372.9 127.0,366.4 128.1,359.9 129.2,354.5 130.3,357.7 131.4,365.3 132.5,366.4 133.5,375.1 134.6,377.3 135.7,378.4 136.8,380.5 137.9,381.6 139.0,384.9 140.1,390.3 141.1,377.3 142.2,366.4 143.3,367.5 144.4,342.5 145.5,343.6 146.6,361.0 147.7,346.9 148.7,351.2 149.8,374.0 150.9,344.7 152.2,355.6 153.3,375.1 154.3,382.7 155.4,386.0 156.5,388.1 157.6,387.1 158.7,382.7 159.8,375.1 160.9,366.4 161.9,377.3 163.0,383.8 164.1,382.7 165.2,387.1 166.3,384.9 167.4,388.1 168.5,386.0 169.5,390.3 170.6,363.2 171.7,386.0 172.8,386.0 173.9,386.0 175.0,387.1 176.1,388.1 177.1,389.2 178.2,388.1 179.3,387.1 180.4,386.0 181.5,383.8 182.6,380.5 183.7,384.9 184.7,381.6 185.8,379.5 186.9,377.3 188.0,376.2 189.1,375.1 190.2,374.0 191.3,369.7 192.3,367.5 193.4,371.9 194.5,375.1 195.6,377.3 196.7,372.9 197.8,374.0 198.9,371.9 199.9,369.7 201.0,375.1 202.1,382.7 203.2,384.9 204.3,383.8 205.4,386.0 206.5,388.1 207.5,384.9 208.6,387.1 209.7,388.1 210.8,389.2 211.9,388.1 213.0,390.3 214.1,387.1 215.1,389.2 216.2,388.1 217.3,390.3 218.4,392.5 219.5,393.6 220.6,394.7 221.7,392.5 222.7,393.6 223.8,391.4 224.9,394.7 226.0,392.5 227.1,390.3 228.2,391.4 229.3,392.5 230.3,394.7 231.4,392.5 232.5,391.4 233.6,393.6 234.7,394.7 235.8,395.7 236.9,394.7 237.9,395.7 239.0,393.6 240.1,395.7 241.2,394.7 242.3,393.6 243.4,392.5 244.5,391.4 245.5,390.3 246.6,389.2 247.7,388.1 248.8,387.1 249.9,388.1 251.0,389.2 252.1,390.3 253.1,392.5 254.2,390.3 255.3,388.1 256.4,392.5 257.5,388.1 258.6,390.3 259.7,389.2 260.7,394.7 261.8,393.6 262.9,392.5 264.2,388.1 265.3,387.1 266.3,386.0 267.4,384.9 268.5,390.3 269.6,394.7 270.7,392.5 271.8,397.9 272.9,399.0 273.9,401.2 275.0,404.4 276.1,399.0 277.2,394.7 278.3,386.0 279.4,388.1 280.5,389.2 281.5,393.6 282.6,392.5 283.7,390.3 284.8,392.5 285.9,394.7 287.0,396.8 288.1,390.3 289.1,388.1 290.2,387.1 291.3,396.8 292.4,399.0 293.5,399.0 294.6,396.8 295.7,394.7 296.7,392.5 297.8,390.3 298.9,387.1 300.0,388.1 301.1,394.7 302.2,396.8 303.3,394.7 304.3,396.8 305.4,397.9 306.5,399.0 307.6,400.1 308.7,399.0 309.8,396.8 310.9,393.6 311.9,390.3 313.0,384.9 314.1,379.5 315.2,376.2 316.3,381.6 317.4,388.1 318.5,386.0 319.5,375.1 320.6,369.7 321.7,380.5 322.8,388.1 323.9,383.8 325.0,392.5 326.1,394.7 327.1,397.9 328.2,406.6 329.3,404.4 330.4,403.3 331.5,404.4 332.6,400.1 333.7,396.8 334.7,381.6 335.8,380.5 336.9,383.8 338.0,392.5 339.1,383.8 340.2,380.5 341.3,368.6 342.3,365.3 343.4,379.5 344.5,396.8 345.6,402.3 346.7,404.4 347.8,403.3 348.9,401.2 349.9,397.9 351.0,396.8 352.1,397.9 353.2,400.1 354.3,401.2 355.4,402.3 356.5,401.2 357.5,402.3 358.6,401.2 359.7,402.3 360.8,403.3 361.9,402.3 363.0,401.2 364.1,403.3 365.1,402.3 366.2,404.4 367.3,403.3 368.4,404.4 369.5,405.5 370.6,404.4 371.7,402.3 372.7,401.2 373.8,402.3 374.9,401.2 376.2,401.4 377.3,400.3 378.4,401.4 379.5,402.5 380.6,401.4 381.7,400.3 382.8,401.4 383.9,399.2 385.0,395.9 386.2,390.4 387.3,398.1 388.4,405.9 389.5,410.3 390.6,412.5 391.7,413.6 392.8,414.7 393.9,415.8 395.0,416.9 396.1,412.5 397.2,407.0 398.3,401.4 399.4,400.3 400.5,395.9 401.6,391.5 402.7,386.0 403.8,384.9 404.9,380.4 406.0,370.5 407.1,362.8 408.2,363.9 409.4,373.8 410.5,382.7 411.6,384.9 412.7,367.2 413.8,359.5 414.9,356.1 416.0,369.4 417.1,380.4 418.2,394.8 419.3,395.9 420.4,399.2 421.5,401.4 422.6,402.5 423.7,403.6 424.8,404.7 425.9,407.0 427.0,410.3 428.1,403.6 429.2,398.1 430.3,391.5 431.4,386.0 432.6,383.8 433.7,389.3 434.8,393.7 435.9,399.2 437.0,400.3 438.1,398.1 439.2,399.2 440.3,402.5 441.4,407.0 442.5,405.9 443.6,404.7 444.7,402.5 445.8,400.3 446.9,399.2 448.0,401.4 449.1,400.3 450.2,403.6 451.3,407.0 452.4,402.5 453.5,395.9 454.6,389.3 455.7,387.1 456.9,391.5 458.0,395.9 459.1,391.5 460.2,384.9 461.3,376.0 462.4,370.5 463.5,365.0 464.6,358.4 465.7,356.1 466.8,359.5 467.9,367.2 469.0,377.1 470.1,384.9 471.2,384.9 472.3,391.5 473.4,402.5 474.5,400.3 475.6,394.8 476.7,391.5 477.8,387.1 478.9,382.7 480.1,379.3 481.2,378.2 482.3,373.8 483.4,378.2 484.5,382.7 485.6,389.3 486.7,395.9 487.8,411.4 488.9,404.7"/>
</g>
<g clip-path="url(#c4)" fill="none" stroke-width="1.3" stroke-linejoin="round">
<polyline stroke="#000000" points="39.1,490.8 40.2,482.1 41.3,488.7 42.3,494.1 43.4,456.1 44.5,459.3 45.6,465.9 46.7,474.5 47.8,468.0 48.9,482.1 49.9,482.1 51.0,481.1 52.1,478.9 53.2,489.7 54.3,495.2 55.4,490.8 56.5,487.6 57.5,486.5 58.6,488.7 59.7,490.8 60.8,486.5 61.9,484.3 63.0,482.1 64.1,481.1 65.1,484.3 66.2,493.0 67.3,488.7 68.4,488.7 69.5,486.5 70.6,481.1 71.7,485.4 72.7,483.2 73.8,486.5 74.9,486.5 76.0,482.1 77.1,482.1 78.2,490.8 79.3,489.7 80.3,487.6 81.4,486.5 82.5,491.9 83.6,463.7 84.7,493.0 85.8,486.5 86.9,489.7 87.9,495.2 89.0,500.6 90.1,491.9 91.2,489.7 92.3,482.1 93.4,472.4 94.5,480.0 95.5,488.7 96.6,486.5 97.7,490.8 98.8,501.7 99.9,500.6 101.0,498.4 102.1,494.1 103.1,486.5 104.2,484.3 105.3,483.2 106.4,481.1 107.5,480.0 108.6,482.1 109.7,485.4 110.7,483.2 111.8,483.2 112.9,482.1 114.0,481.1 115.1,474.5 116.2,480.0 117.3,482.1 118.3,482.1 119.4,481.1 120.5,477.8 121.6,471.3 122.7,469.1 123.8,465.9 124.9,459.3 125.9,469.1 127.0,472.4 128.1,463.7 129.2,451.7 130.3,448.5 131.4,459.3 132.5,472.4 133.5,469.1 134.6,471.3 135.7,475.6 136.8,475.6 137.9,476.7 139.0,477.8 140.1,488.7 141.1,496.3 142.2,460.4 143.3,453.9 144.4,433.3 145.5,445.2 146.6,443.1 147.7,445.2 148.7,455.0 149.8,463.7 150.9,434.4 152.2,453.9 153.3,471.3 154.3,464.8 155.4,473.5 156.5,471.3 157.6,475.6 158.7,473.5 159.8,480.0 160.9,450.7 161.9,478.9 163.0,476.7 164.1,472.4 165.2,464.8 166.3,475.6 167.4,477.8 168.5,474.5 169.5,482.1 170.6,458.3 171.7,482.1 172.8,481.1 173.9,483.2 175.0,486.5 176.1,483.2 177.1,482.1 178.2,481.1 179.3,483.2 180.4,484.3 181.5,485.4 182.6,472.4 183.7,477.8 184.7,476.7 185.8,476.7 186.9,475.6 188.0,475.6 189.1,470.2 190.2,474.5 191.3,463.7 192.3,466.9 193.4,471.3 194.5,475.6 195.6,483.2 196.7,484.3 197.8,485.4 198.9,483.2 199.9,472.4 201.0,474.5 202.1,488.7 203.2,498.4 204.3,489.7 205.4,491.9 206.5,496.3 207.5,499.5 208.6,498.4 209.7,491.9 210.8,491.9 211.9,501.7 213.0,499.5 214.1,498.4 215.1,497.3 216.2,496.3 217.3,488.7 218.4,482.1 219.5,478.9 220.6,480.0 221.7,494.1 222.7,501.7 223.8,493.0 224.9,483.2 226.0,490.8 227.1,491.9 228.2,474.5 229.3,486.5 230.3,506.0 231.4,488.7 232.5,486.5 233.6,488.7 234.7,499.5 235.8,503.9 236.9,495.2 237.9,512.5 239.0,491.9 240.1,495.2 241.2,510.4 242.3,498.4 243.4,494.1 244.5,502.8 245.5,497.3 246.6,495.2 247.7,494.1 248.8,494.1 249.9,495.2 251.0,484.3 252.1,491.9 253.1,494.1 254.2,495.2 255.3,497.3 256.4,499.5 257.5,496.3 258.6,491.9 259.7,482.1 260.7,477.8 261.8,482.1 262.9,487.6 264.2,486.5 265.3,484.3 266.3,486.5 267.4,483.2 268.5,493.0 269.6,485.4 270.7,486.5 271.8,483.2 272.9,482.1 273.9,488.7 275.0,491.9 276.1,491.9 277.2,488.7 278.3,480.0 279.4,478.9 280.5,482.1 281.5,481.1 282.6,484.3 283.7,486.5 284.8,490.8 285.9,484.3 287.0,478.9 288.1,476.7 289.1,475.6 290.2,483.2 291.3,491.9 292.4,494.1 293.5,495.2 294.6,494.1 295.7,493.0 296.7,491.9 297.8,486.5 298.9,478.9 300.0,484.3 301.1,490.8 302.2,491.9 303.3,490.8 304.3,488.7 305.4,484.3 306.5,463.7 307.6,491.9 308.7,491.9 309.8,490.8 310.9,488.7 311.9,482.1 313.0,472.4 314.1,462.6 315.2,471.3 316.3,486.5 317.4,487.6 318.5,477.8 319.5,460.4 320.2,457.2 321.1,486.5 321.7,473.5 322.8,472.4 323.9,480.0 325.0,480.0 326.1,476.7 327.1,486.5 328.2,480.0 329.3,496.3 330.4,482.1 331.5,490.8 332.6,481.1 333.7,478.9 334.7,480.0 335.8,476.7 336.9,475.6 338.0,491.9 339.1,478.9 340.2,475.6 341.3,473.5 342.3,456.1 343.4,466.9 344.5,483.2 345.6,488.7 346.7,503.9 347.8,490.8 348.9,488.7 349.9,502.8 351.0,496.3 352.1,494.1 353.2,491.9 354.3,490.8 355.4,494.1 356.5,491.9 357.5,488.7 358.6,487.6 359.7,484.3 360.8,482.1 361.9,485.4 363.0,490.8 364.1,491.9 365.1,490.8 366.2,493.0 367.3,487.6 368.4,490.8 369.5,494.1 370.6,501.7 371.7,499.5 372.7,496.3 373.8,495.2 374.9,493.0 376.2,494.3 377.3,495.4 378.4,496.5 379.5,495.4 380.6,494.3 381.7,492.1 382.8,493.2 383.9,492.1 385.0,489.9 386.2,482.2 387.3,485.5 388.4,494.3 389.5,504.3 390.6,501.0 391.7,502.1 392.8,505.4 393.9,509.8 395.0,505.4 396.1,493.2 397.2,491.0 398.3,494.3 399.4,491.0 400.5,487.7 401.6,485.5 402.7,467.8 403.8,485.5 404.9,444.6 406.0,443.5 407.1,445.7 408.2,457.9 409.4,464.5 410.5,457.9 411.6,471.1 412.7,455.7 413.8,434.7 414.9,432.5 416.0,454.6 417.1,477.8 418.2,480.0 419.3,476.7 420.4,487.7 421.5,476.7 422.6,486.6 423.7,487.7 424.8,485.5 425.9,489.9 427.0,487.7 428.1,482.2 429.2,480.0 430.3,473.3 431.4,460.1 432.6,476.7 433.7,464.5 434.8,472.2 435.9,472.2 437.0,473.3 438.1,474.4 439.2,478.9 440.3,483.3 441.4,484.4 442.5,482.2 443.6,483.3 444.7,486.6 445.8,488.8 446.9,489.9 448.0,487.7 449.1,485.5 450.2,487.7 451.3,491.0 452.4,493.2 453.5,489.9 454.6,478.9 455.7,468.9 456.9,473.3 458.0,477.8 459.1,463.4 460.2,462.3 461.3,459.0 462.4,441.3 463.5,434.7 464.6,421.4 465.7,425.8 466.8,434.7 467.9,447.9 469.0,459.0 470.1,449.0 471.2,460.1 472.3,480.0 473.4,478.9 474.5,477.8 475.6,472.2 476.7,461.2 477.8,456.8 478.9,457.9 480.1,461.2 481.2,462.3 482.3,453.5 483.4,430.3 484.5,443.5 485.6,460.1 486.7,485.5 487.8,486.6 488.9,482.2"/>
</g>
<g clip-path="url(#c5)" fill="none" stroke-width="1.3" stroke-linejoin="round">
<polyline stroke="#000000" points="39.1,549.0 40.2,539.2 41.3,530.5 42.3,530.5 43.4,550.1 44.5,569.6 45.6,570.7 46.7,567.5 47.8,568.5 48.9,560.9 49.9,557.7 51.0,555.5 52.1,555.5 53.2,543.6 54.3,530.5 55.4,528.4 56.5,525.1 57.5,521.9 58.6,519.7 59.7,524.0 60.8,536.0 61.9,537.1 63.0,528.4 64.1,519.7 65.1,532.7 66.2,533.8 67.3,525.1 68.4,524.0 69.5,527.3 70.6,544.7 71.7,542.5 72.7,541.4 73.8,543.6 74.9,546.8 76.0,537.1 77.1,521.9 78.2,520.8 79.3,522.9 80.3,521.9 81.4,520.8 82.5,542.5 83.6,542.5 84.7,534.9 85.8,538.1 86.9,532.7 87.9,525.1 89.0,529.5 90.1,543.6 91.2,544.7 92.3,539.2 93.4,532.7 94.5,531.6 95.5,537.1 96.6,543.6 97.7,538.1 98.8,533.8 99.9,534.9 101.0,539.2 102.1,542.5 103.1,545.7 104.2,543.6 105.3,539.2 106.4,536.0 107.5,532.7 108.6,529.5 109.7,527.3 110.7,529.5 111.8,526.2 112.9,522.9 114.0,525.1 115.1,525.1 116.2,530.5 117.3,532.7 118.3,536.0 119.4,540.3 120.5,543.6 121.6,550.1 122.7,557.7 123.8,565.3 124.9,567.5 125.9,566.4 127.0,574.0 128.1,580.5 129.2,587.0 130.3,580.5 131.4,574.0 132.5,568.5 133.5,562.0 134.6,565.3 135.7,558.8 136.8,549.0 137.9,545.7 139.0,543.6 140.1,541.4 141.1,542.5 142.2,559.9 143.3,571.8 144.4,576.1 145.5,593.5 146.6,584.8 147.7,582.7 148.7,580.5 149.8,581.6 150.5,571.8 150.9,593.5 151.7,593.5 152.6,567.5 153.3,563.1 154.3,554.4 155.4,547.9 156.5,540.3 157.6,542.5 158.7,544.7 159.8,547.9 160.9,574.0 161.9,552.3 163.0,557.7 164.1,562.0 165.2,545.7 166.3,541.4 167.4,531.6 168.5,541.4 169.5,550.1 170.6,555.5 171.7,531.6 172.8,533.8 173.9,538.1 175.0,539.2 176.1,536.0 177.1,531.6 178.2,532.7 179.3,533.8 180.4,532.7 181.5,537.1 182.6,550.1 183.7,547.9 184.7,546.8 185.8,551.2 186.9,554.4 188.0,557.7 189.1,556.6 190.2,559.9 191.3,565.3 192.3,568.5 193.4,557.7 194.5,558.8 195.6,556.6 196.7,555.5 197.8,556.6 198.9,554.4 199.9,555.5 201.0,551.2 202.1,530.5 203.2,518.6 204.3,530.5 205.4,538.1 206.5,537.1 207.5,534.9 208.6,532.7 209.7,530.5 210.8,528.4 211.9,525.1 213.0,524.0 214.1,527.3 215.1,531.6 216.2,534.9 217.3,536.0 218.4,534.9 219.5,526.2 220.6,520.8 221.7,519.7 222.7,530.5 223.8,531.6 224.9,530.5 226.0,533.8 227.1,530.5 228.2,528.4 229.3,529.5 230.3,532.7 231.4,537.1 232.5,534.9 233.6,532.7 234.7,528.4 235.8,527.3 236.9,526.2 237.9,525.1 239.0,524.0 240.1,527.3 241.2,531.6 242.3,533.8 243.4,534.9 244.5,537.1 245.5,539.2 246.6,541.4 247.7,543.6 248.8,541.4 249.9,540.3 251.0,538.1 252.1,539.2 253.1,542.5 254.2,530.5 255.3,520.8 256.4,519.7 257.5,528.4 258.6,534.9 259.7,537.1 260.7,550.1 261.8,539.2 262.9,540.3 264.2,543.6 265.3,546.8 266.3,551.2 267.4,543.6 268.5,540.3 269.6,549.0 270.7,541.4 271.8,539.2 272.9,543.6 273.9,540.3 275.0,539.2 276.1,538.1 277.2,541.4 278.3,567.5 279.4,552.3 280.5,550.1 281.5,547.9 282.6,544.7 283.7,546.8 284.8,537.1 285.9,527.3 287.0,530.5 288.1,534.9 289.1,553.3 290.2,541.4 291.3,534.9 292.4,532.7 293.5,534.9 294.6,526.2 295.7,518.6 296.7,515.3 297.8,524.0 298.9,547.9 300.0,529.5 301.1,517.5 302.2,515.3 303.3,528.4 304.3,542.5 305.4,532.7 306.5,521.9 307.6,516.4 308.7,514.3 309.8,528.4 310.9,543.6 311.9,554.4 313.0,557.7 314.1,555.5 315.2,558.8 316.3,545.7 317.4,554.4 318.5,568.5 319.5,571.8 320.6,572.9 321.7,562.0 322.8,555.5 323.9,562.0 325.0,549.0 326.1,553.3 327.1,546.8 328.2,533.8 329.3,538.1 330.4,540.3 331.5,541.4 332.6,544.7 333.7,543.6 334.7,545.7 335.8,544.7 336.9,553.3 338.0,542.5 339.1,551.2 340.2,565.3 341.3,576.1 342.3,578.3 343.4,533.8 344.5,529.5 345.6,524.0 346.7,519.7 347.8,521.9 348.9,520.8 349.9,524.0 351.0,534.9 352.1,536.0 353.2,528.4 354.3,522.9 355.4,520.8 356.5,519.7 357.5,518.6 358.6,516.4 359.7,515.3 360.8,514.3 361.9,515.3 363.0,514.3 364.1,514.3 365.1,517.5 366.2,518.6 367.3,519.7 368.4,516.4 369.5,521.9 370.6,527.3 371.7,526.2 372.7,524.0 373.8,529.5 374.9,521.9 376.2,520.9 377.3,523.2 378.4,524.3 379.5,527.6 380.6,532.0 381.7,529.8 382.8,533.1 383.9,535.3 385.0,541.9 386.2,559.6 387.3,537.5 388.4,529.8 389.5,526.5 390.6,526.5 391.7,525.4 392.8,525.4 393.9,519.8 395.0,517.6 396.1,530.9 397.2,535.3 398.3,539.7 399.4,540.8 400.5,545.2 401.6,550.8 402.7,556.3 403.8,547.5 404.9,577.3 406.0,587.2 407.1,575.1 408.2,574.0 409.4,575.1 410.5,576.2 411.6,575.1 412.7,586.1 413.8,591.6 414.9,599.4 416.0,577.3 417.1,558.5 418.2,557.4 419.3,555.2 420.4,553.0 421.5,549.7 422.6,548.6 423.7,550.8 424.8,543.0 425.9,533.1 427.0,517.6 428.1,555.2 429.2,559.6 430.3,564.0 431.4,574.0 432.6,564.0 433.7,570.7 434.8,561.8 435.9,555.2 437.0,547.5 438.1,538.6 439.2,543.0 440.3,548.6 441.4,549.7 442.5,544.1 443.6,535.3 444.7,528.7 445.8,527.6 446.9,539.7 448.0,544.1 449.1,551.9 450.2,558.5 451.3,530.9 452.4,532.0 453.5,526.5 454.6,533.1 455.7,551.9 456.9,557.4 458.0,558.5 459.1,566.2 460.2,569.6 461.3,579.5 462.4,588.3 463.5,596.1 464.6,603.8 465.7,607.1 466.8,596.1 467.9,583.9 469.0,577.3 470.1,576.2 471.2,565.1 472.3,554.1 473.4,545.2 474.5,555.2 475.6,558.5 476.7,574.0 477.8,575.1 478.9,571.8 480.1,570.7 481.2,569.6 482.3,579.5 483.4,587.2 484.5,560.7 485.6,548.6 486.7,543.0 487.8,544.1 488.9,547.5"/>
</g>
<g clip-path="url(#c6)" fill="none" stroke-width="1.3" stroke-linejoin="round">
<polyline stroke="#000000" points="39.7,612.3 41.3,611.8 42.6,614.3 43.7,616.9 45.4,615.9 46.6,612.3 48.3,610.6 50.0,610.0 51.7,611.4 52.9,609.1 54.6,611.1 55.7,612.9 57.5,613.4 59.7,613.4 61.4,612.3 62.6,615.1 64.3,612.9 66.0,612.3 68.0,612.9 69.5,615.8 70.6,614.7 71.7,613.6 72.7,612.5 73.8,613.6 74.9,614.7 76.0,612.5 77.1,611.4 78.2,614.7 79.3,613.6 80.3,615.8 81.4,614.7 82.5,612.5 83.6,614.7 84.7,616.9 85.8,612.5 86.9,613.6 87.9,612.5 89.0,614.7 90.1,613.6 91.2,614.7 92.3,613.6 93.4,614.7 94.5,614.7 95.5,613.6 96.6,612.5 97.7,611.4 98.8,612.5 99.9,611.4 101.0,610.3 102.1,611.4 103.1,612.5 104.2,611.4 105.3,613.6 106.4,614.7 107.5,613.6 108.6,613.6 109.7,612.5 110.7,611.4 111.8,612.5 112.9,612.5 114.0,611.4 115.1,612.5 116.2,612.5 117.3,611.4 118.3,612.5 119.4,613.6 120.5,614.7 121.6,615.8 122.7,616.9 123.8,616.9 124.9,617.9 125.9,617.9 127.0,619.0 128.1,617.9 129.2,619.0 130.3,620.1 131.4,619.0 132.5,620.1 133.5,620.1 134.6,619.0 135.7,617.9 136.8,617.9 137.9,619.0 139.0,619.0 140.1,620.1 141.1,619.0 142.2,620.1 143.3,621.2 144.4,622.3 145.5,619.0 146.6,621.2 147.7,622.3 148.7,619.0 149.8,623.4 150.9,621.2 152.2,621.2 153.3,622.3 154.3,621.2 155.4,620.1 156.5,620.1 157.6,619.0 158.7,621.2 159.8,622.3 160.9,621.2 161.9,620.1 163.0,621.2 164.1,622.3 165.2,622.3 166.3,623.4 167.4,622.3 168.5,624.5 169.5,627.7 170.6,624.5 171.7,621.2 172.8,620.1 173.9,621.2 175.0,621.2 176.1,620.1 177.1,621.2 178.2,620.1 179.3,621.2 180.4,620.1 181.5,621.2 182.6,622.3 183.7,621.2 184.7,620.1 185.8,621.2 186.9,622.3 188.0,621.2 189.1,622.3 190.2,623.4 191.3,622.3 192.3,621.2 193.4,623.4 194.5,621.2 195.6,619.0 196.7,617.9 197.8,619.0 198.9,621.2 199.9,623.4 201.0,625.5 202.1,621.2 203.2,620.1 204.3,619.0 205.4,617.9 206.5,617.9 207.5,619.0 208.6,617.9 209.7,617.9 210.8,617.9 211.9,616.9 213.0,616.9 214.1,617.9 215.1,619.0 216.2,620.1 217.3,621.2 218.4,621.2 219.5,620.1 220.6,619.0 221.7,617.9 222.7,615.8 223.8,616.9 224.9,616.9 226.0,617.9 227.1,617.9 228.2,616.9 229.3,617.9 230.3,617.9 231.4,617.9 232.5,617.9 233.6,617.9 234.7,617.9 235.8,616.9 236.9,617.9 237.9,617.9 239.0,616.9 240.1,616.9 241.2,617.9 242.3,616.9 243.4,616.9 244.5,617.9 245.5,619.0 246.6,617.9 247.7,619.0 248.8,620.1 249.9,619.0 251.0,620.1 252.1,622.3 253.1,621.2 254.2,620.1 255.3,621.2 256.4,620.1 257.5,619.0 258.6,620.1 259.7,621.2 260.7,620.1 261.8,621.2 262.9,621.2 264.2,619.0 265.3,620.1 266.3,619.0 267.4,617.9 268.5,619.0 269.6,617.9 270.7,617.9 271.8,616.9 272.9,617.9 273.9,616.9 275.0,615.8 276.1,616.9 277.2,617.9 278.3,619.0 279.4,620.1 280.5,619.0 281.5,621.2 282.6,622.3 283.7,623.4 284.8,624.5 285.9,622.3 287.0,621.2 288.1,622.3 289.1,621.2 290.2,622.3 291.3,623.4 292.4,622.3 293.5,623.4 294.6,622.3 295.7,624.5 296.7,625.5 297.8,623.4 298.9,622.3 300.0,621.2 301.1,623.4 302.2,622.3 303.3,621.2 304.3,622.3 305.4,621.2 306.5,622.3 307.6,621.2 308.7,622.3 309.8,623.4 310.9,621.2 311.9,622.3 313.0,623.4 314.1,624.5 315.2,622.3 316.3,619.0 317.4,617.9 318.5,619.0 319.5,617.9 320.6,619.0 321.7,617.9 322.8,619.0 323.9,617.9 325.0,619.0 326.1,617.9 327.1,617.9 328.2,619.0 329.3,617.9 330.4,620.1 331.5,619.0 332.6,619.0 333.7,620.1 334.7,621.2 335.8,622.3 336.9,623.4 338.0,621.2 339.1,620.1 340.2,622.3 341.3,623.4 342.3,624.5 343.4,622.3 344.5,620.1 345.6,620.1 346.7,619.0 347.8,620.1 348.9,619.0 349.9,620.1 351.0,619.0 352.1,617.9 353.2,617.9 354.3,617.9 355.4,616.9 356.5,616.9 357.5,616.9 358.6,616.9 359.7,617.9 360.8,616.9 361.9,616.9 363.0,616.9 364.1,617.9 365.1,616.9 366.2,617.9 367.3,616.9 368.4,617.9 369.5,617.9 370.6,617.9 371.7,619.0 372.7,619.0 373.8,620.1 374.9,621.2 376.2,620.4 377.3,621.5 378.4,620.4 379.5,619.3 380.6,620.4 381.7,619.3 382.8,620.4 383.9,619.3 385.0,620.4 386.2,619.3 387.3,620.4 388.4,619.3 389.5,620.4 390.6,620.4 391.7,621.5 392.8,620.4 393.9,621.5 395.0,622.6 396.1,623.7 397.2,624.8 398.3,623.7 399.4,625.9 400.5,628.1 401.6,627.0 402.7,629.2 403.8,630.3 404.9,628.1 406.0,625.9 407.1,623.7 408.2,620.4 409.4,622.6 410.5,621.5 411.6,620.4 412.7,622.6 413.8,621.5 414.9,620.4 416.0,619.3 417.1,618.2 418.2,620.4 419.3,619.3 420.4,620.4 421.5,619.3 422.6,620.4 423.7,621.5 424.8,620.4 425.9,621.5 427.0,620.4 428.1,621.5 429.2,620.4 430.3,621.5 431.4,620.4 432.6,621.5 433.7,622.6 434.8,620.4 435.9,622.6 437.0,631.4 438.1,628.1 439.2,622.6 440.3,621.5 441.4,622.6 442.5,621.5 443.6,622.6 444.7,621.5 445.8,623.7 446.9,622.6 448.0,621.5 449.1,623.7 450.2,624.8 451.3,625.9 452.4,623.7 453.5,622.6 454.6,623.7 455.7,624.8 456.9,627.0 458.0,625.9 459.1,624.8 460.2,623.7 461.3,622.6 462.4,623.7 463.5,621.5 464.6,622.6 465.7,621.5 466.8,622.6 467.9,623.7 469.0,624.8 470.1,625.9 471.2,628.1 472.3,625.9 473.4,624.8 474.5,622.6 475.6,623.7 476.7,622.6 477.8,621.5 478.9,622.6 480.1,621.5 481.2,620.4 482.3,621.5 483.4,622.6 484.5,628.1 485.6,625.9 486.7,623.7 487.8,624.8 488.9,625.9"/>
<polyline stroke="#0050ff" points="39.4,626.6 42.6,615.7 45.4,639.1 47.1,635.1 48.0,634.2 49.4,627.7 50.6,624.9 52.0,627.1 53.1,617.4 54.3,612.9 56.3,613.4 57.5,614.3 59.7,616.3 62.6,620.3 64.0,614.0 65.1,613.6 66.6,616.0 68.4,615.8 69.5,614.7 70.6,621.2 71.7,617.9 72.7,614.7 73.8,620.1 74.9,615.8 76.0,615.8 77.1,614.7 78.2,617.9 79.3,615.8 80.3,614.7 81.4,616.9 82.5,615.8 83.6,617.9 84.7,616.9 85.8,620.1 86.9,624.5 87.9,615.8 89.0,617.9 90.1,619.0 91.2,615.8 92.3,617.9 93.4,616.9 94.5,615.8 95.5,614.7 96.6,615.8 97.7,619.0 98.8,617.9 99.9,614.7 101.0,613.6 102.1,616.9 103.1,619.0 104.2,616.9 105.3,615.8 106.4,614.7 107.5,615.8 108.6,614.7 109.7,615.8 110.7,614.7 111.8,615.8 112.9,614.7 114.0,614.7 115.1,614.7 116.2,615.8 117.3,614.7 118.3,615.8 119.4,619.0 120.5,622.3 121.6,626.6 122.7,629.9 123.8,634.2 124.9,636.4 125.9,637.5 127.0,640.7 128.1,647.3 129.2,652.7 130.3,649.4 131.4,644.0 132.5,640.7 133.5,636.4 134.6,641.8 135.7,637.5 136.8,634.2 137.9,627.7 139.0,625.5 140.1,623.4 141.1,627.7 142.2,636.4 143.3,642.9 144.4,652.7 145.5,653.8 146.6,654.9 147.7,648.3 148.7,649.4 149.8,652.7 150.9,658.1 152.2,649.4 153.3,638.6 154.3,632.1 155.4,628.8 156.5,625.5 157.6,627.7 158.7,632.1 159.8,633.1 160.9,645.1 161.9,640.7 163.0,634.2 164.1,635.3 165.2,632.1 166.3,628.8 167.4,627.7 168.5,629.9 169.5,635.3 170.6,644.0 171.7,632.1 172.8,628.8 173.9,626.6 175.0,623.4 176.1,626.6 177.1,627.7 178.2,625.5 179.3,626.6 180.4,628.8 181.5,631.0 182.6,632.1 183.7,634.2 184.7,629.9 185.8,632.1 186.9,631.0 188.0,629.9 189.1,633.1 190.2,632.1 191.3,636.4 192.3,640.7 193.4,636.4 194.5,638.6 195.6,634.2 196.7,633.1 197.8,631.0 198.9,629.9 199.9,633.1 201.0,634.2 202.1,626.6 203.2,620.1 204.3,619.0 205.4,620.1 206.5,619.0 207.5,617.9 208.6,620.1 209.7,617.9 210.8,617.9 211.9,619.0 213.0,617.9 214.1,617.9 215.1,619.0 216.2,621.2 217.3,622.3 218.4,623.4 219.5,621.2 220.6,619.0 221.7,620.1 222.7,617.9 223.8,619.0 224.9,619.0 226.0,617.9 227.1,619.0 228.2,619.0 229.3,620.1 230.3,621.2 231.4,620.1 232.5,619.0 233.6,620.1 234.7,619.0 235.8,619.0 236.9,617.9 237.9,619.0 239.0,617.9 240.1,619.0 241.2,620.1 242.3,619.0 243.4,621.2 244.5,620.1 245.5,619.0 246.6,620.1 247.7,621.2 248.8,623.4 249.9,624.5 251.0,625.5 252.1,627.7 253.1,623.4 254.2,622.3 255.3,621.2 256.4,621.2 257.5,622.3 258.6,623.4 259.7,627.7 260.7,626.6 261.8,623.4 262.9,625.5 264.2,627.7 265.3,626.6 266.3,625.5 267.4,624.5 268.5,623.4 269.6,626.6 270.7,627.7 271.8,625.5 272.9,624.5 273.9,623.4 275.0,626.6 276.1,631.0 277.2,629.9 278.3,637.5 279.4,629.9 280.5,628.8 281.5,627.7 282.6,625.5 283.7,624.5 284.8,625.5 285.9,622.3 287.0,626.6 288.1,627.7 289.1,632.1 290.2,625.5 291.3,627.7 292.4,626.6 293.5,624.5 294.6,626.6 295.7,627.7 296.7,626.6 297.8,628.8 298.9,633.1 300.0,629.9 301.1,626.6 302.2,625.5 303.3,622.3 304.3,624.5 305.4,623.4 306.5,622.3 307.6,624.5 308.7,627.7 309.8,629.9 310.9,632.1 311.9,634.2 313.0,636.4 314.1,633.1 315.2,629.9 316.3,626.6 317.4,635.3 318.5,640.7 319.5,641.8 320.6,634.2 321.7,629.9 322.8,632.1 323.9,627.7 325.0,624.5 326.1,626.6 327.1,625.5 328.2,623.4 329.3,622.3 330.4,621.2 331.5,622.3 332.6,623.4 333.7,627.7 334.7,629.9 335.8,628.8 336.9,634.2 338.0,633.1 339.1,626.6 340.2,627.7 341.3,636.4 342.3,645.1 343.4,634.2 344.5,625.5 345.6,622.3 346.7,621.2 347.8,620.1 348.9,620.1 349.9,621.2 351.0,620.1 352.1,620.1 353.2,619.0 354.3,617.9 355.4,617.9 356.5,616.9 357.5,616.9 358.6,616.9 359.7,616.9 360.8,615.8 361.9,616.9 363.0,616.9 364.1,616.9 365.1,617.9 366.2,616.9 367.3,616.9 368.4,616.9 369.5,615.8 370.6,615.8 371.7,616.9 372.7,617.9 373.8,619.0 374.9,620.1 376.2,622.6 377.3,621.5 378.4,622.6 379.5,621.5 380.6,622.6 381.7,621.5 382.8,622.6 383.9,623.7 385.0,622.6 386.2,628.1 387.3,622.6 388.4,621.5 389.5,622.6 390.6,623.7 391.7,621.5 392.8,622.6 393.9,624.8 395.0,627.0 396.1,628.1 397.2,627.0 398.3,625.9 399.4,628.1 400.5,630.3 401.6,634.7 402.7,639.1 403.8,643.6 404.9,650.2 406.0,653.5 407.1,646.9 408.2,643.6 409.4,646.9 410.5,644.7 411.6,650.2 412.7,645.8 413.8,651.3 414.9,656.8 416.0,649.1 417.1,640.2 418.2,631.4 419.3,629.2 420.4,630.3 421.5,628.1 422.6,627.0 423.7,628.1 424.8,625.9 425.9,624.8 427.0,623.7 428.1,625.9 429.2,631.4 430.3,635.8 431.4,638.0 432.6,641.4 433.7,639.1 434.8,636.9 435.9,633.6 437.0,628.1 438.1,632.5 439.2,636.9 440.3,627.0 441.4,624.8 442.5,623.7 443.6,628.1 444.7,625.9 445.8,624.8 446.9,623.7 448.0,625.9 449.1,628.1 450.2,634.7 451.3,630.3 452.4,624.8 453.5,623.7 454.6,632.5 455.7,638.0 456.9,636.9 458.0,632.5 459.1,643.6 460.2,648.0 461.3,652.4 462.4,660.1 463.5,663.4 464.6,666.8 465.7,661.2 466.8,655.7 467.9,650.2 469.0,648.0 470.1,644.7 471.2,640.2 472.3,634.7 473.4,632.5 474.5,633.6 475.6,635.8 476.7,634.7 477.8,640.2 478.9,643.6 480.1,644.7 481.2,649.1 482.3,652.4 483.4,655.7 484.5,632.5 485.6,628.1 486.7,629.2 487.8,631.4 488.9,630.3"/>
<polyline stroke="#00ff00" points="39.1,652.7 40.2,658.1 41.3,671.1 42.3,686.3 43.4,692.9 44.5,698.3 45.6,699.4 46.7,697.2 47.8,696.1 48.9,695.0 49.9,693.9 51.0,693.9 52.1,691.8 53.2,684.2 54.3,672.2 55.4,662.5 56.5,658.1 57.5,659.2 58.6,664.6 59.7,673.3 60.8,677.7 61.9,678.7 63.0,670.1 64.1,660.3 65.1,652.7 66.2,649.4 67.3,658.1 68.4,653.8 69.5,646.2 70.6,640.7 71.7,644.0 72.7,641.8 73.8,639.7 74.9,646.2 76.0,649.4 77.1,655.9 78.2,664.6 79.3,667.9 80.3,662.5 81.4,653.8 82.5,644.0 83.6,638.6 84.7,640.7 85.8,649.4 86.9,652.7 87.9,648.3 89.0,645.1 90.1,638.6 91.2,636.4 92.3,644.0 93.4,647.3 94.5,651.6 95.5,647.3 96.6,642.9 97.7,638.6 98.8,645.1 99.9,642.9 101.0,639.7 102.1,638.6 103.1,639.7 104.2,641.8 105.3,644.0 106.4,646.2 107.5,649.4 108.6,650.5 109.7,651.6 110.7,650.5 111.8,652.7 112.9,655.9 114.0,662.5 115.1,667.9 116.2,670.1 117.3,669.0 118.3,670.1 119.4,666.8 120.5,664.6 121.6,661.4 122.7,658.1 123.8,662.5 124.9,661.4 125.9,660.3 127.0,662.5 128.1,663.5 129.2,666.8 130.3,669.0 131.4,664.6 132.5,655.9 133.5,660.3 134.6,670.1 135.7,679.8 136.8,683.1 137.9,680.9 139.0,684.2 140.1,679.8 141.1,675.5 142.2,671.1 143.3,664.6 144.4,658.1 145.5,660.3 146.6,664.6 147.7,688.5 148.7,692.9 149.8,690.7 150.9,688.5 152.2,689.6 153.3,677.7 154.3,666.8 155.4,654.9 156.5,658.1 157.6,664.6 158.7,665.7 159.8,667.9 160.9,651.6 161.9,664.6 163.0,684.2 164.1,685.3 165.2,679.8 166.3,675.5 167.4,673.3 168.5,678.7 169.5,679.8 170.6,664.6 171.7,655.9 172.8,660.3 173.9,657.0 175.0,658.1 176.1,655.9 177.1,661.4 178.2,658.1 179.3,660.3 180.4,657.0 181.5,654.9 182.6,662.5 183.7,664.6 184.7,658.1 185.8,654.9 186.9,653.8 188.0,652.7 189.1,659.2 190.2,658.1 191.3,661.4 192.3,665.7 193.4,669.0 194.5,662.5 195.6,655.9 196.7,654.9 197.8,652.7 198.9,647.3 199.9,645.1 201.0,651.6 202.1,672.2 203.2,660.3 204.3,651.6 205.4,648.3 206.5,647.3 207.5,649.4 208.6,650.5 209.7,653.8 210.8,658.1 211.9,661.4 213.0,665.7 214.1,671.1 215.1,675.5 216.2,677.7 217.3,678.7 218.4,676.6 219.5,671.1 220.6,667.9 221.7,666.8 222.7,664.6 223.8,661.4 224.9,659.2 226.0,660.3 227.1,662.5 228.2,663.5 229.3,661.4 230.3,660.3 231.4,663.5 232.5,664.6 233.6,662.5 234.7,660.3 235.8,658.1 236.9,655.9 237.9,657.0 239.0,659.2 240.1,663.5 241.2,669.0 242.3,671.1 243.4,673.3 244.5,672.2 245.5,671.1 246.6,670.1 247.7,667.9 248.8,671.1 249.9,670.1 251.0,667.9 252.1,671.1 253.1,673.3 254.2,669.0 255.3,664.6 256.4,661.4 257.5,662.5 258.6,658.1 259.7,659.2 260.7,655.9 261.8,649.4 262.9,642.9 264.2,644.0 265.3,660.3 266.3,675.5 267.4,679.8 268.5,680.9 269.6,683.1 270.7,685.3 271.8,679.8 272.9,677.7 273.9,675.5 275.0,674.4 276.1,676.6 277.2,679.8 278.3,687.4 279.4,684.2 280.5,682.0 281.5,680.9 282.6,677.7 283.7,674.4 284.8,671.1 285.9,669.0 287.0,666.8 288.1,663.5 289.1,661.4 290.2,658.1 291.3,654.9 292.4,658.1 293.5,660.3 294.6,661.4 295.7,659.2 296.7,664.6 297.8,671.1 298.9,678.7 300.0,662.5 301.1,666.8 302.2,667.9 303.3,671.1 304.3,675.5 305.4,669.0 306.5,664.6 307.6,660.3 308.7,653.8 309.8,647.3 310.9,642.9 311.9,637.5 313.0,636.4 314.1,652.7 315.2,669.0 316.3,679.8 317.4,684.2 318.5,688.5 319.5,689.6 320.6,688.5 321.7,686.3 322.8,677.7 323.9,670.1 325.0,665.7 326.1,669.0 327.1,675.5 328.2,670.1 329.3,666.8 330.4,663.5 331.5,662.5 332.6,661.4 333.7,659.2 334.7,649.4 335.8,644.0 336.9,637.5 338.0,639.7 339.1,642.9 340.2,648.3 341.3,652.7 342.3,657.0 343.4,660.3 344.5,664.6 345.6,666.8 346.7,665.7 347.8,667.9 348.9,666.8 349.9,669.0 351.0,671.1 352.1,673.3 353.2,669.0 354.3,666.8 355.4,664.6 356.5,663.5 357.5,664.6 358.6,663.5 359.7,662.5 360.8,664.6 361.9,663.5 363.0,663.5 364.1,665.7 365.1,664.6 366.2,663.5 367.3,665.7 368.4,664.6 369.5,666.8 370.6,663.5 371.7,665.7 372.7,669.0 373.8,665.7 374.9,664.6 376.2,666.8 377.3,663.4 378.4,670.1 379.5,671.2 380.6,672.3 381.7,671.2 382.8,669.0 383.9,667.9 385.0,650.2 386.2,632.5 387.3,628.1 388.4,650.2 389.5,656.8 390.6,655.7 391.7,653.5 392.8,652.4 393.9,659.0 395.0,653.5 396.1,651.3 397.2,649.1 398.3,646.9 399.4,659.0 400.5,672.3 401.6,676.7 402.7,680.0 403.8,682.2 404.9,684.4 406.0,685.5 407.1,686.6 408.2,690.0 409.4,688.9 410.5,693.3 411.6,695.5 412.7,697.7 413.8,699.9 414.9,702.1 416.0,690.0 417.1,678.9 418.2,671.2 419.3,675.6 420.4,676.7 421.5,678.9 422.6,677.8 423.7,684.4 424.8,682.2 425.9,685.5 427.0,681.1 428.1,687.7 429.2,682.2 430.3,688.9 431.4,692.2 432.6,688.9 433.7,691.1 434.8,681.1 435.9,672.3 437.0,662.3 438.1,656.8 439.2,646.9 440.3,641.4 441.4,640.2 442.5,639.1 443.6,643.6 444.7,646.9 445.8,649.1 446.9,643.6 448.0,641.4 449.1,640.2 450.2,646.9 451.3,642.5 452.4,636.9 453.5,634.7 454.6,638.0 455.7,641.4 456.9,639.1 458.0,636.9 459.1,635.8 460.2,641.4 461.3,645.8 462.4,648.0 463.5,650.2 464.6,644.7 465.7,646.9 466.8,652.4 467.9,659.0 469.0,650.2 470.1,674.5 471.2,663.4 472.3,678.9 473.4,685.5 474.5,690.0 475.6,692.2 476.7,693.3 477.8,694.4 478.9,696.6 480.1,697.7 481.2,698.8 482.3,699.9 483.4,694.4 484.5,663.4 485.6,644.7 486.7,642.5 487.8,643.6 488.9,641.4"/>
<polyline stroke="#ff0000" points="39.1,627.7 40.2,628.8 41.3,638.6 42.3,651.6 43.4,664.6 44.5,673.3 45.6,678.7 46.7,680.9 47.8,685.3 48.9,679.8 49.9,675.5 51.0,672.2 52.1,670.1 53.2,671.1 54.3,671.1 55.4,669.0 56.5,666.8 57.5,664.6 58.6,660.3 59.7,655.9 60.8,649.4 61.9,646.2 63.0,647.3 64.1,658.1 65.1,655.9 66.2,652.7 67.3,650.5 68.4,649.4 69.5,648.3 70.6,646.2 71.7,644.0 72.7,642.9 73.8,645.1 74.9,644.0 76.0,645.1 77.1,655.9 78.2,665.7 79.3,666.8 80.3,663.5 81.4,658.1 82.5,654.9 83.6,651.6 84.7,649.4 85.8,652.7 86.9,649.4 87.9,650.5 89.0,653.8 90.1,651.6 91.2,652.7 92.3,652.7 93.4,654.9 94.5,651.6 95.5,652.7 96.6,653.8 97.7,654.9 98.8,654.9 99.9,658.1 101.0,659.2 102.1,664.6 103.1,670.1 104.2,669.0 105.3,666.8 106.4,665.7 107.5,664.6 108.6,662.5 109.7,661.4 110.7,659.2 111.8,657.0 112.9,653.8 114.0,652.7 115.1,649.4 116.2,646.2 117.3,644.0 118.3,640.7 119.4,637.5 120.5,633.1 121.6,629.9 122.7,626.6 123.8,624.5 124.9,623.4 125.9,622.3 127.0,621.2 128.1,619.0 129.2,620.1 130.3,623.4 131.4,625.5 132.5,629.9 133.5,632.1 134.6,637.5 135.7,641.8 136.8,646.2 137.9,647.3 139.0,645.1 140.1,648.3 141.1,658.1 142.2,638.6 143.3,622.3 144.4,620.1 145.5,625.5 146.6,619.0 147.7,626.6 148.7,635.3 149.8,642.9 150.9,645.1 152.2,638.6 153.3,641.8 154.3,639.7 155.4,637.5 156.5,638.6 157.6,637.5 158.7,634.2 159.8,629.9 160.9,627.7 161.9,644.0 163.0,662.5 164.1,677.7 165.2,666.8 166.3,661.4 167.4,662.5 168.5,661.4 169.5,658.1 170.6,648.3 171.7,651.6 172.8,647.3 173.9,644.0 175.0,645.1 176.1,646.2 177.1,644.0 178.2,642.9 179.3,641.8 180.4,640.7 181.5,636.4 182.6,634.2 183.7,638.6 184.7,635.3 185.8,632.1 186.9,629.9 188.0,631.0 189.1,634.2 190.2,637.5 191.3,632.1 192.3,631.0 193.4,629.9 194.5,632.1 195.6,633.1 196.7,628.8 197.8,631.0 198.9,634.2 199.9,640.7 201.0,647.3 202.1,661.4 203.2,655.9 204.3,651.6 205.4,649.4 206.5,648.3 207.5,647.3 208.6,647.3 209.7,648.3 210.8,649.4 211.9,650.5 213.0,652.7 214.1,654.9 215.1,653.8 216.2,654.9 217.3,655.9 218.4,657.0 219.5,658.1 220.6,661.4 221.7,669.0 222.7,670.1 223.8,673.3 224.9,674.4 226.0,671.1 227.1,673.3 228.2,675.5 229.3,676.6 230.3,675.5 231.4,672.2 232.5,672.2 233.6,673.3 234.7,671.1 235.8,670.1 236.9,669.0 237.9,667.9 239.0,669.0 240.1,670.1 241.2,671.1 242.3,672.2 243.4,674.4 244.5,673.3 245.5,676.6 246.6,678.7 247.7,679.8 248.8,677.7 249.9,675.5 251.0,675.5 252.1,676.6 253.1,675.5 254.2,671.1 255.3,676.6 256.4,675.5 257.5,677.7 258.6,671.1 259.7,677.7 260.7,685.3 261.8,679.8 262.9,673.3 264.2,671.1 265.3,675.5 266.3,680.9 267.4,666.8 268.5,660.3 269.6,663.5 270.7,671.1 271.8,675.5 272.9,675.5 273.9,674.4 275.0,675.5 276.1,677.7 277.2,680.9 278.3,685.3 279.4,680.9 280.5,675.5 281.5,671.1 282.6,669.0 283.7,673.3 284.8,666.8 285.9,662.5 287.0,665.7 288.1,672.2 289.1,683.1 290.2,673.3 291.3,655.9 292.4,650.5 293.5,646.2 294.6,650.5 295.7,657.0 296.7,663.5 297.8,666.8 298.9,662.5 300.0,658.1 301.1,663.5 302.2,667.9 303.3,665.7 304.3,662.5 305.4,661.4 306.5,660.3 307.6,659.2 308.7,655.9 309.8,653.8 310.9,651.6 311.9,648.3 313.0,652.7 314.1,667.9 315.2,676.6 316.3,679.8 317.4,682.0 318.5,684.2 319.5,683.1 320.6,684.2 321.7,688.5 322.8,692.9 323.9,686.3 325.0,683.1 326.1,682.0 327.1,680.9 328.2,678.7 329.3,676.6 330.4,677.7 331.5,679.8 332.6,682.0 333.7,677.7 334.7,671.1 335.8,665.7 336.9,660.3 338.0,653.8 339.1,646.2 340.2,636.4 341.3,626.6 342.3,625.5 343.4,645.1 344.5,669.0 345.6,660.3 346.7,658.1 347.8,655.9 348.9,657.0 349.9,652.7 351.0,648.3 352.1,650.5 353.2,657.0 354.3,660.3 355.4,661.4 356.5,660.3 357.5,659.2 358.6,660.3 359.7,659.2 360.8,661.4 361.9,660.3 363.0,661.4 364.1,662.5 365.1,663.5 366.2,664.6 367.3,662.5 368.4,663.5 369.5,665.7 370.6,667.9 371.7,664.6 372.7,666.8 373.8,671.1 374.9,669.0 376.2,667.9 377.3,664.6 378.4,670.1 379.5,672.3 380.6,667.9 381.7,662.3 382.8,665.7 383.9,670.1 385.0,665.7 386.2,660.1 387.3,666.8 388.4,670.1 389.5,663.4 390.6,660.1 391.7,656.8 392.8,659.0 393.9,657.9 395.0,654.6 396.1,653.5 397.2,650.2 398.3,652.4 399.4,670.1 400.5,674.5 401.6,678.9 402.7,676.7 403.8,677.8 404.9,681.1 406.0,680.0 407.1,676.7 408.2,678.9 409.4,680.0 410.5,674.5 411.6,667.9 412.7,676.7 413.8,678.9 414.9,660.1 416.0,673.4 417.1,676.7 418.2,685.5 419.3,690.0 420.4,687.7 421.5,681.1 422.6,678.9 423.7,681.1 424.8,674.5 425.9,670.1 427.0,664.6 428.1,672.3 429.2,682.2 430.3,683.3 431.4,681.1 432.6,676.7 433.7,682.2 434.8,683.3 435.9,674.5 437.0,670.1 438.1,663.4 439.2,661.2 440.3,660.1 441.4,656.8 442.5,659.0 443.6,656.8 444.7,655.7 445.8,661.2 446.9,660.1 448.0,652.4 449.1,649.1 450.2,653.5 451.3,659.0 452.4,669.0 453.5,662.3 454.6,653.5 455.7,650.2 456.9,645.8 458.0,641.4 459.1,639.1 460.2,634.7 461.3,630.3 462.4,628.1 463.5,627.0 464.6,625.9 465.7,624.8 466.8,623.7 467.9,625.9 469.0,629.2 470.1,636.9 471.2,641.4 472.3,644.7 473.4,642.5 474.5,644.7 475.6,646.9 476.7,650.2 477.8,646.9 478.9,648.0 480.1,650.2 481.2,652.4 482.3,655.7 483.4,657.9 484.5,659.0 485.6,656.8 486.7,655.7 487.8,654.6 488.9,655.7"/>
</g>
<path d="M39.50 42.50v5M39.50 136.76v-5M52.00 42.50v2.5M52.00 136.76v-2.5M64.50 42.50v2.5M64.50 136.76v-2.5M77.00 42.50v2.5M77.00 136.76v-2.5M89.50 42.50v2.5M89.50 136.76v-2.5M102.00 42.50v2.5M102.00 136.76v-2.5M114.50 42.50v2.5M114.50 136.76v-2.5M127.00 42.50v2.5M127.00 136.76v-2.5M139.50 42.50v5M139.50 136.76v-5M152.00 42.50v2.5M152.00 136.76v-2.5M164.50 42.50v2.5M164.50 136.76v-2.5M177.00 42.50v2.5M177.00 136.76v-2.5M189.50 42.50v2.5M189.50 136.76v-2.5M202.00 42.50v2.5M202.00 136.76v-2.5M214.50 42.50v2.5M214.50 136.76v-2.5M227.00 42.50v2.5M227.00 136.76v-2.5M239.50 42.50v5M239.50 136.76v-5M252.00 42.50v2.5M252.00 136.76v-2.5M264.50 42.50v2.5M264.50 136.76v-2.5M277.00 42.50v2.5M277.00 136.76v-2.5M289.50 42.50v2.5M289.50 136.76v-2.5M302.00 42.50v2.5M302.00 136.76v-2.5M314.50 42.50v2.5M314.50 136.76v-2.5M327.00 42.50v2.5M327.00 136.76v-2.5M339.50 42.50v5M339.50 136.76v-5M352.00 42.50v2.5M352.00 136.76v-2.5M364.50 42.50v2.5M364.50 136.76v-2.5M377.00 42.50v2.5M377.00 136.76v-2.5M389.50 42.50v2.5M389.50 136.76v-2.5M402.00 42.50v2.5M402.00 136.76v-2.5M414.50 42.50v2.5M414.50 136.76v-2.5M427.00 42.50v2.5M427.00 136.76v-2.5M439.50 42.50v5M439.50 136.76v-5M452.00 42.50v2.5M452.00 136.76v-2.5M464.50 42.50v2.5M464.50 136.76v-2.5M477.00 42.50v2.5M477.00 136.76v-2.5M489.50 42.50v2.5M489.50 136.76v-2.5M39.50 135.52h2.3M489.50 135.52h-2.3M39.50 132.97h2.3M489.50 132.97h-2.3M39.50 130.43h2.3M489.50 130.43h-2.3M39.50 127.88h2.3M489.50 127.88h-2.3M39.50 125.34h2.3M489.50 125.34h-2.3M39.50 122.79h2.3M489.50 122.79h-2.3M39.50 120.25h4.5M489.50 120.25h-4.5M39.50 117.70h2.3M489.50 117.70h-2.3M39.50 115.16h2.3M489.50 115.16h-2.3M39.50 112.62h2.3M489.50 112.62h-2.3M39.50 110.07h2.3M489.50 110.07h-2.3M39.50 107.52h2.3M489.50 107.52h-2.3M39.50 104.98h2.3M489.50 104.98h-2.3M39.50 102.43h2.3M489.50 102.43h-2.3M39.50 99.89h2.3M489.50 99.89h-2.3M39.50 97.34h2.3M489.50 97.34h-2.3M39.50 94.80h4.5M489.50 94.80h-4.5M39.50 92.25h2.3M489.50 92.25h-2.3M39.50 89.71h2.3M489.50 89.71h-2.3M39.50 87.16h2.3M489.50 87.16h-2.3M39.50 84.62h2.3M489.50 84.62h-2.3M39.50 82.08h2.3M489.50 82.08h-2.3M39.50 79.53h2.3M489.50 79.53h-2.3M39.50 76.98h2.3M489.50 76.98h-2.3M39.50 74.44h2.3M489.50 74.44h-2.3M39.50 71.89h2.3M489.50 71.89h-2.3M39.50 69.35h4.5M489.50 69.35h-4.5M39.50 66.80h2.3M489.50 66.80h-2.3M39.50 64.26h2.3M489.50 64.26h-2.3M39.50 61.71h2.3M489.50 61.71h-2.3M39.50 59.17h2.3M489.50 59.17h-2.3M39.50 56.62h2.3M489.50 56.62h-2.3M39.50 54.08h2.3M489.50 54.08h-2.3M39.50 51.53h2.3M489.50 51.53h-2.3M39.50 48.99h2.3M489.50 48.99h-2.3M39.50 46.44h2.3M489.50 46.44h-2.3M39.50 43.90h4.5M489.50 43.90h-4.5M39.50 136.76v5M39.50 231.01v-5M52.00 136.76v2.5M52.00 231.01v-2.5M64.50 136.76v2.5M64.50 231.01v-2.5M77.00 136.76v2.5M77.00 231.01v-2.5M89.50 136.76v2.5M89.50 231.01v-2.5M102.00 136.76v2.5M102.00 231.01v-2.5M114.50 136.76v2.5M114.50 231.01v-2.5M127.00 136.76v2.5M127.00 231.01v-2.5M139.50 136.76v5M139.50 231.01v-5M152.00 136.76v2.5M152.00 231.01v-2.5M164.50 136.76v2.5M164.50 231.01v-2.5M177.00 136.76v2.5M177.00 231.01v-2.5M189.50 136.76v2.5M189.50 231.01v-2.5M202.00 136.76v2.5M202.00 231.01v-2.5M214.50 136.76v2.5M214.50 231.01v-2.5M227.00 136.76v2.5M227.00 231.01v-2.5M239.50 136.76v5M239.50 231.01v-5M252.00 136.76v2.5M252.00 231.01v-2.5M264.50 136.76v2.5M264.50 231.01v-2.5M277.00 136.76v2.5M277.00 231.01v-2.5M289.50 136.76v2.5M289.50 231.01v-2.5M302.00 136.76v2.5M302.00 231.01v-2.5M314.50 136.76v2.5M314.50 231.01v-2.5M327.00 136.76v2.5M327.00 231.01v-2.5M339.50 136.76v5M339.50 231.01v-5M352.00 136.76v2.5M352.00 231.01v-2.5M364.50 136.76v2.5M364.50 231.01v-2.5M377.00 136.76v2.5M377.00 231.01v-2.5M389.50 136.76v2.5M389.50 231.01v-2.5M402.00 136.76v2.5M402.00 231.01v-2.5M414.50 136.76v2.5M414.50 231.01v-2.5M427.00 136.76v2.5M427.00 231.01v-2.5M439.50 136.76v5M439.50 231.01v-5M452.00 136.76v2.5M452.00 231.01v-2.5M464.50 136.76v2.5M464.50 231.01v-2.5M477.00 136.76v2.5M477.00 231.01v-2.5M489.50 136.76v2.5M489.50 231.01v-2.5M39.50 229.62h2.3M489.50 229.62h-2.3M39.50 225.72h2.3M489.50 225.72h-2.3M39.50 221.81h2.3M489.50 221.81h-2.3M39.50 217.91h4.5M489.50 217.91h-4.5M39.50 214.00h2.3M489.50 214.00h-2.3M39.50 210.10h2.3M489.50 210.10h-2.3M39.50 206.20h2.3M489.50 206.20h-2.3M39.50 202.29h2.3M489.50 202.29h-2.3M39.50 198.39h4.5M489.50 198.39h-4.5M39.50 194.48h2.3M489.50 194.48h-2.3M39.50 190.58h2.3M489.50 190.58h-2.3M39.50 186.67h2.3M489.50 186.67h-2.3M39.50 182.77h2.3M489.50 182.77h-2.3M39.50 178.86h4.5M489.50 178.86h-4.5M39.50 174.96h2.3M489.50 174.96h-2.3M39.50 171.05h2.3M489.50 171.05h-2.3M39.50 167.15h2.3M489.50 167.15h-2.3M39.50 163.24h2.3M489.50 163.24h-2.3M39.50 159.34h4.5M489.50 159.34h-4.5M39.50 155.43h2.3M489.50 155.43h-2.3M39.50 151.53h2.3M489.50 151.53h-2.3M39.50 147.62h2.3M489.50 147.62h-2.3M39.50 143.72h2.3M489.50 143.72h-2.3M39.50 139.81h4.5M489.50 139.81h-4.5M39.50 231.01v5M39.50 325.27v-5M52.00 231.01v2.5M52.00 325.27v-2.5M64.50 231.01v2.5M64.50 325.27v-2.5M77.00 231.01v2.5M77.00 325.27v-2.5M89.50 231.01v2.5M89.50 325.27v-2.5M102.00 231.01v2.5M102.00 325.27v-2.5M114.50 231.01v2.5M114.50 325.27v-2.5M127.00 231.01v2.5M127.00 325.27v-2.5M139.50 231.01v5M139.50 325.27v-5M152.00 231.01v2.5M152.00 325.27v-2.5M164.50 231.01v2.5M164.50 325.27v-2.5M177.00 231.01v2.5M177.00 325.27v-2.5M189.50 231.01v2.5M189.50 325.27v-2.5M202.00 231.01v2.5M202.00 325.27v-2.5M214.50 231.01v2.5M214.50 325.27v-2.5M227.00 231.01v2.5M227.00 325.27v-2.5M239.50 231.01v5M239.50 325.27v-5M252.00 231.01v2.5M252.00 325.27v-2.5M264.50 231.01v2.5M264.50 325.27v-2.5M277.00 231.01v2.5M277.00 325.27v-2.5M289.50 231.01v2.5M289.50 325.27v-2.5M302.00 231.01v2.5M302.00 325.27v-2.5M314.50 231.01v2.5M314.50 325.27v-2.5M327.00 231.01v2.5M327.00 325.27v-2.5M339.50 231.01v5M339.50 325.27v-5M352.00 231.01v2.5M352.00 325.27v-2.5M364.50 231.01v2.5M364.50 325.27v-2.5M377.00 231.01v2.5M377.00 325.27v-2.5M389.50 231.01v2.5M389.50 325.27v-2.5M402.00 231.01v2.5M402.00 325.27v-2.5M414.50 231.01v2.5M414.50 325.27v-2.5M427.00 231.01v2.5M427.00 325.27v-2.5M439.50 231.01v5M439.50 325.27v-5M452.00 231.01v2.5M452.00 325.27v-2.5M464.50 231.01v2.5M464.50 325.27v-2.5M477.00 231.01v2.5M477.00 325.27v-2.5M489.50 231.01v2.5M489.50 325.27v-2.5M39.50 323.01h2.3M489.50 323.01h-2.3M39.50 321.04h2.3M489.50 321.04h-2.3M39.50 319.07h2.3M489.50 319.07h-2.3M39.50 317.11h2.3M489.50 317.11h-2.3M39.50 315.14h2.3M489.50 315.14h-2.3M39.50 313.17h2.3M489.50 313.17h-2.3M39.50 311.20h4.5M489.50 311.20h-4.5M39.50 309.24h2.3M489.50 309.24h-2.3M39.50 307.27h2.3M489.50 307.27h-2.3M39.50 305.30h2.3M489.50 305.30h-2.3M39.50 303.34h2.3M489.50 303.34h-2.3M39.50 301.37h2.3M489.50 301.37h-2.3M39.50 299.40h2.3M489.50 299.40h-2.3M39.50 297.44h2.3M489.50 297.44h-2.3M39.50 295.47h2.3M489.50 295.47h-2.3M39.50 293.50h2.3M489.50 293.50h-2.3M39.50 291.53h4.5M489.50 291.53h-4.5M39.50 289.57h2.3M489.50 289.57h-2.3M39.50 287.60h2.3M489.50 287.60h-2.3M39.50 285.63h2.3M489.50 285.63h-2.3M39.50 283.67h2.3M489.50 283.67h-2.3M39.50 281.70h2.3M489.50 281.70h-2.3M39.50 279.73h2.3M489.50 279.73h-2.3M39.50 277.77h2.3M489.50 277.77h-2.3M39.50 275.80h2.3M489.50 275.80h-2.3M39.50 273.83h2.3M489.50 273.83h-2.3M39.50 271.87h4.5M489.50 271.87h-4.5M39.50 269.90h2.3M489.50 269.90h-2.3M39.50 267.93h2.3M489.50 267.93h-2.3M39.50 265.96h2.3M489.50 265.96h-2.3M39.50 264.00h2.3M489.50 264.00h-2.3M39.50 262.03h2.3M489.50 262.03h-2.3M39.50 260.06h2.3M489.50 260.06h-2.3M39.50 258.10h2.3M489.50 258.10h-2.3M39.50 256.13h2.3M489.50 256.13h-2.3M39.50 254.16h2.3M489.50 254.16h-2.3M39.50 252.19h4.5M489.50 252.19h-4.5M39.50 250.23h2.3M489.50 250.23h-2.3M39.50 248.26h2.3M489.50 248.26h-2.3M39.50 246.29h2.3M489.50 246.29h-2.3M39.50 244.33h2.3M489.50 244.33h-2.3M39.50 242.36h2.3M489.50 242.36h-2.3M39.50 240.39h2.3M489.50 240.39h-2.3M39.50 238.43h2.3M489.50 238.43h-2.3M39.50 236.46h2.3M489.50 236.46h-2.3M39.50 234.49h2.3M489.50 234.49h-2.3M39.50 232.52h4.5M489.50 232.52h-4.5M39.50 325.27v5M39.50 419.53v-5M52.00 325.27v2.5M52.00 419.53v-2.5M64.50 325.27v2.5M64.50 419.53v-2.5M77.00 325.27v2.5M77.00 419.53v-2.5M89.50 325.27v2.5M89.50 419.53v-2.5M102.00 325.27v2.5M102.00 419.53v-2.5M114.50 325.27v2.5M114.50 419.53v-2.5M127.00 325.27v2.5M127.00 419.53v-2.5M139.50 325.27v5M139.50 419.53v-5M152.00 325.27v2.5M152.00 419.53v-2.5M164.50 325.27v2.5M164.50 419.53v-2.5M177.00 325.27v2.5M177.00 419.53v-2.5M189.50 325.27v2.5M189.50 419.53v-2.5M202.00 325.27v2.5M202.00 419.53v-2.5M214.50 325.27v2.5M214.50 419.53v-2.5M227.00 325.27v2.5M227.00 419.53v-2.5M239.50 325.27v5M239.50 419.53v-5M252.00 325.27v2.5M252.00 419.53v-2.5M264.50 325.27v2.5M264.50 419.53v-2.5M277.00 325.27v2.5M277.00 419.53v-2.5M289.50 325.27v2.5M289.50 419.53v-2.5M302.00 325.27v2.5M302.00 419.53v-2.5M314.50 325.27v2.5M314.50 419.53v-2.5M327.00 325.27v2.5M327.00 419.53v-2.5M339.50 325.27v5M339.50 419.53v-5M352.00 325.27v2.5M352.00 419.53v-2.5M364.50 325.27v2.5M364.50 419.53v-2.5M377.00 325.27v2.5M377.00 419.53v-2.5M389.50 325.27v2.5M389.50 419.53v-2.5M402.00 325.27v2.5M402.00 419.53v-2.5M414.50 325.27v2.5M414.50 419.53v-2.5M427.00 325.27v2.5M427.00 419.53v-2.5M439.50 325.27v5M439.50 419.53v-5M452.00 325.27v2.5M452.00 419.53v-2.5M464.50 325.27v2.5M464.50 419.53v-2.5M477.00 325.27v2.5M477.00 419.53v-2.5M489.50 325.27v2.5M489.50 419.53v-2.5M39.50 413.65h2.3M489.50 413.65h-2.3M39.50 407.07h2.3M489.50 407.07h-2.3M39.50 400.50h4.5M489.50 400.50h-4.5M39.50 393.93h2.3M489.50 393.93h-2.3M39.50 387.35h2.3M489.50 387.35h-2.3M39.50 380.77h2.3M489.50 380.77h-2.3M39.50 374.20h4.5M489.50 374.20h-4.5M39.50 367.62h2.3M489.50 367.62h-2.3M39.50 361.05h2.3M489.50 361.05h-2.3M39.50 354.47h2.3M489.50 354.47h-2.3M39.50 347.90h4.5M489.50 347.90h-4.5M39.50 341.32h2.3M489.50 341.32h-2.3M39.50 334.75h2.3M489.50 334.75h-2.3M39.50 328.18h2.3M489.50 328.18h-2.3M39.50 419.53v5M39.50 513.79v-5M52.00 419.53v2.5M52.00 513.79v-2.5M64.50 419.53v2.5M64.50 513.79v-2.5M77.00 419.53v2.5M77.00 513.79v-2.5M89.50 419.53v2.5M89.50 513.79v-2.5M102.00 419.53v2.5M102.00 513.79v-2.5M114.50 419.53v2.5M114.50 513.79v-2.5M127.00 419.53v2.5M127.00 513.79v-2.5M139.50 419.53v5M139.50 513.79v-5M152.00 419.53v2.5M152.00 513.79v-2.5M164.50 419.53v2.5M164.50 513.79v-2.5M177.00 419.53v2.5M177.00 513.79v-2.5M189.50 419.53v2.5M189.50 513.79v-2.5M202.00 419.53v2.5M202.00 513.79v-2.5M214.50 419.53v2.5M214.50 513.79v-2.5M227.00 419.53v2.5M227.00 513.79v-2.5M239.50 419.53v5M239.50 513.79v-5M252.00 419.53v2.5M252.00 513.79v-2.5M264.50 419.53v2.5M264.50 513.79v-2.5M277.00 419.53v2.5M277.00 513.79v-2.5M289.50 419.53v2.5M289.50 513.79v-2.5M302.00 419.53v2.5M302.00 513.79v-2.5M314.50 419.53v2.5M314.50 513.79v-2.5M327.00 419.53v2.5M327.00 513.79v-2.5M339.50 419.53v5M339.50 513.79v-5M352.00 419.53v2.5M352.00 513.79v-2.5M364.50 419.53v2.5M364.50 513.79v-2.5M377.00 419.53v2.5M377.00 513.79v-2.5M389.50 419.53v2.5M389.50 513.79v-2.5M402.00 419.53v2.5M402.00 513.79v-2.5M414.50 419.53v2.5M414.50 513.79v-2.5M427.00 419.53v2.5M427.00 513.79v-2.5M439.50 419.53v5M439.50 513.79v-5M452.00 419.53v2.5M452.00 513.79v-2.5M464.50 419.53v2.5M464.50 513.79v-2.5M477.00 419.53v2.5M477.00 513.79v-2.5M489.50 419.53v2.5M489.50 513.79v-2.5M39.50 509.62h2.3M489.50 509.62h-2.3M39.50 504.10h4.5M489.50 504.10h-4.5M39.50 498.57h2.3M489.50 498.57h-2.3M39.50 493.05h2.3M489.50 493.05h-2.3M39.50 487.52h2.3M489.50 487.52h-2.3M39.50 482.00h4.5M489.50 482.00h-4.5M39.50 476.47h2.3M489.50 476.47h-2.3M39.50 470.95h2.3M489.50 470.95h-2.3M39.50 465.43h2.3M489.50 465.43h-2.3M39.50 459.90h4.5M489.50 459.90h-4.5M39.50 454.38h2.3M489.50 454.38h-2.3M39.50 448.85h2.3M489.50 448.85h-2.3M39.50 443.32h2.3M489.50 443.32h-2.3M39.50 437.80h4.5M489.50 437.80h-4.5M39.50 432.27h2.3M489.50 432.27h-2.3M39.50 426.75h2.3M489.50 426.75h-2.3M39.50 421.22h2.3M489.50 421.22h-2.3M39.50 513.79v5M39.50 608.04v-5M52.00 513.79v2.5M52.00 608.04v-2.5M64.50 513.79v2.5M64.50 608.04v-2.5M77.00 513.79v2.5M77.00 608.04v-2.5M89.50 513.79v2.5M89.50 608.04v-2.5M102.00 513.79v2.5M102.00 608.04v-2.5M114.50 513.79v2.5M114.50 608.04v-2.5M127.00 513.79v2.5M127.00 608.04v-2.5M139.50 513.79v5M139.50 608.04v-5M152.00 513.79v2.5M152.00 608.04v-2.5M164.50 513.79v2.5M164.50 608.04v-2.5M177.00 513.79v2.5M177.00 608.04v-2.5M189.50 513.79v2.5M189.50 608.04v-2.5M202.00 513.79v2.5M202.00 608.04v-2.5M214.50 513.79v2.5M214.50 608.04v-2.5M227.00 513.79v2.5M227.00 608.04v-2.5M239.50 513.79v5M239.50 608.04v-5M252.00 513.79v2.5M252.00 608.04v-2.5M264.50 513.79v2.5M264.50 608.04v-2.5M277.00 513.79v2.5M277.00 608.04v-2.5M289.50 513.79v2.5M289.50 608.04v-2.5M302.00 513.79v2.5M302.00 608.04v-2.5M314.50 513.79v2.5M314.50 608.04v-2.5M327.00 513.79v2.5M327.00 608.04v-2.5M339.50 513.79v5M339.50 608.04v-5M352.00 513.79v2.5M352.00 608.04v-2.5M364.50 513.79v2.5M364.50 608.04v-2.5M377.00 513.79v2.5M377.00 608.04v-2.5M389.50 513.79v2.5M389.50 608.04v-2.5M402.00 513.79v2.5M402.00 608.04v-2.5M414.50 513.79v2.5M414.50 608.04v-2.5M427.00 513.79v2.5M427.00 608.04v-2.5M439.50 513.79v5M439.50 608.04v-5M452.00 513.79v2.5M452.00 608.04v-2.5M464.50 513.79v2.5M464.50 608.04v-2.5M477.00 513.79v2.5M477.00 608.04v-2.5M489.50 513.79v2.5M489.50 608.04v-2.5M39.50 603.66h4.5M489.50 603.66h-4.5M39.50 599.12h2.3M489.50 599.12h-2.3M39.50 594.57h2.3M489.50 594.57h-2.3M39.50 590.02h2.3M489.50 590.02h-2.3M39.50 585.48h4.5M489.50 585.48h-4.5M39.50 580.93h2.3M489.50 580.93h-2.3M39.50 576.39h2.3M489.50 576.39h-2.3M39.50 571.84h2.3M489.50 571.84h-2.3M39.50 567.30h4.5M489.50 567.30h-4.5M39.50 562.75h2.3M489.50 562.75h-2.3M39.50 558.21h2.3M489.50 558.21h-2.3M39.50 553.66h2.3M489.50 553.66h-2.3M39.50 549.12h4.5M489.50 549.12h-4.5M39.50 544.57h2.3M489.50 544.57h-2.3M39.50 540.03h2.3M489.50 540.03h-2.3M39.50 535.48h2.3M489.50 535.48h-2.3M39.50 530.94h4.5M489.50 530.94h-4.5M39.50 526.39h2.3M489.50 526.39h-2.3M39.50 521.85h2.3M489.50 521.85h-2.3M39.50 517.30h2.3M489.50 517.30h-2.3M39.50 608.04v5M39.50 702.30v-5M52.00 608.04v2.5M52.00 702.30v-2.5M64.50 608.04v2.5M64.50 702.30v-2.5M77.00 608.04v2.5M77.00 702.30v-2.5M89.50 608.04v2.5M89.50 702.30v-2.5M102.00 608.04v2.5M102.00 702.30v-2.5M114.50 608.04v2.5M114.50 702.30v-2.5M127.00 608.04v2.5M127.00 702.30v-2.5M139.50 608.04v5M139.50 702.30v-5M152.00 608.04v2.5M152.00 702.30v-2.5M164.50 608.04v2.5M164.50 702.30v-2.5M177.00 608.04v2.5M177.00 702.30v-2.5M189.50 608.04v2.5M189.50 702.30v-2.5M202.00 608.04v2.5M202.00 702.30v-2.5M214.50 608.04v2.5M214.50 702.30v-2.5M227.00 608.04v2.5M227.00 702.30v-2.5M239.50 608.04v5M239.50 702.30v-5M252.00 608.04v2.5M252.00 702.30v-2.5M264.50 608.04v2.5M264.50 702.30v-2.5M277.00 608.04v2.5M277.00 702.30v-2.5M289.50 608.04v2.5M289.50 702.30v-2.5M302.00 608.04v2.5M302.00 702.30v-2.5M314.50 608.04v2.5M314.50 702.30v-2.5M327.00 608.04v2.5M327.00 702.30v-2.5M339.50 608.04v5M339.50 702.30v-5M352.00 608.04v2.5M352.00 702.30v-2.5M364.50 608.04v2.5M364.50 702.30v-2.5M377.00 608.04v2.5M377.00 702.30v-2.5M389.50 608.04v2.5M389.50 702.30v-2.5M402.00 608.04v2.5M402.00 702.30v-2.5M414.50 608.04v2.5M414.50 702.30v-2.5M427.00 608.04v2.5M427.00 702.30v-2.5M439.50 608.04v5M439.50 702.30v-5M452.00 608.04v2.5M452.00 702.30v-2.5M464.50 608.04v2.5M464.50 702.30v-2.5M477.00 608.04v2.5M477.00 702.30v-2.5M489.50 608.04v2.5M489.50 702.30v-2.5M39.50 698.86h2.3M489.50 698.86h-2.3M39.50 694.72h4.5M489.50 694.72h-4.5M39.50 690.58h2.3M489.50 690.58h-2.3M39.50 686.44h2.3M489.50 686.44h-2.3M39.50 682.30h2.3M489.50 682.30h-2.3M39.50 678.16h4.5M489.50 678.16h-4.5M39.50 674.02h2.3M489.50 674.02h-2.3M39.50 669.88h2.3M489.50 669.88h-2.3M39.50 665.74h2.3M489.50 665.74h-2.3M39.50 661.60h4.5M489.50 661.60h-4.5M39.50 657.46h2.3M489.50 657.46h-2.3M39.50 653.32h2.3M489.50 653.32h-2.3M39.50 649.18h2.3M489.50 649.18h-2.3M39.50 645.04h4.5M489.50 645.04h-4.5M39.50 640.90h2.3M489.50 640.90h-2.3M39.50 636.76h2.3M489.50 636.76h-2.3M39.50 632.62h2.3M489.50 632.62h-2.3M39.50 628.48h4.5M489.50 628.48h-4.5M39.50 624.34h2.3M489.50 624.34h-2.3M39.50 620.20h2.3M489.50 620.20h-2.3M39.50 616.06h2.3M489.50 616.06h-2.3M39.50 611.92h4.5M489.50 611.92h-4.5" stroke="#000" stroke-width="1.2" fill="none"/>
<path d="M39.5 41.90V702.90M489.5 41.90V702.90" stroke="#000" stroke-width="1.25" fill="none"/>
<path d="M38.9 42.50H490.1" stroke="#000" stroke-width="1.3" fill="none"/>
<path d="M38.9 136.76H490.1" stroke="#000" stroke-width="1.6" fill="none"/>
<path d="M38.9 231.01H490.1" stroke="#000" stroke-width="1.6" fill="none"/>
<path d="M38.9 325.27H490.1" stroke="#000" stroke-width="1.6" fill="none"/>
<path d="M38.9 419.53H490.1" stroke="#000" stroke-width="1.6" fill="none"/>
<path d="M38.9 513.79H490.1" stroke="#000" stroke-width="1.6" fill="none"/>
<path d="M38.9 608.04H490.1" stroke="#000" stroke-width="1.6" fill="none"/>
<path d="M38.9 702.30H490.1" stroke="#000" stroke-width="1.3" fill="none"/>
<text x="37" y="123.85" font-size="10" text-anchor="end">4</text>
<text x="37" y="98.40" font-size="10" text-anchor="end">5</text>
<text x="37" y="72.95" font-size="10" text-anchor="end">6</text>
<text x="37" y="48.70" font-size="10" text-anchor="end">7</text>
<text x="37" y="221.51" font-size="10" text-anchor="end">0.15</text>
<text x="37" y="201.99" font-size="10" text-anchor="end">0.20</text>
<text x="37" y="182.46" font-size="10" text-anchor="end">0.25</text>
<text x="37" y="162.94" font-size="10" text-anchor="end">0.30</text>
<text x="37" y="143.41" font-size="10" text-anchor="end">0.35</text>
<text x="37" y="314.81" font-size="10" text-anchor="end">3</text>
<text x="37" y="295.13" font-size="10" text-anchor="end">4</text>
<text x="37" y="275.47" font-size="10" text-anchor="end">5</text>
<text x="37" y="255.79" font-size="10" text-anchor="end">6</text>
<text x="37" y="237.32" font-size="10" text-anchor="end">7</text>
<text x="37" y="404.10" font-size="10" text-anchor="end">540</text>
<text x="37" y="377.80" font-size="10" text-anchor="end">560</text>
<text x="37" y="351.50" font-size="10" text-anchor="end">580</text>
<text x="37" y="507.70" font-size="10" text-anchor="end">0.94</text>
<text x="37" y="485.60" font-size="10" text-anchor="end">0.96</text>
<text x="37" y="463.50" font-size="10" text-anchor="end">0.98</text>
<text x="37" y="441.40" font-size="10" text-anchor="end">1.00</text>
<text x="37" y="607.26" font-size="10" text-anchor="end">80</text>
<text x="37" y="589.08" font-size="10" text-anchor="end">100</text>
<text x="37" y="570.90" font-size="10" text-anchor="end">120</text>
<text x="37" y="552.72" font-size="10" text-anchor="end">140</text>
<text x="37" y="534.54" font-size="10" text-anchor="end">160</text>
<text x="37" y="698.32" font-size="10" text-anchor="end">−4</text>
<text x="37" y="681.76" font-size="10" text-anchor="end">−2</text>
<text x="37" y="665.20" font-size="10" text-anchor="end">0</text>
<text x="37" y="648.64" font-size="10" text-anchor="end">2</text>
<text x="37" y="632.08" font-size="10" text-anchor="end">4</text>
<text x="37" y="615.52" font-size="10" text-anchor="end">6</text>
<text x="39.50" y="715" font-size="10" text-anchor="middle">0600</text>
<text x="139.50" y="715" font-size="10" text-anchor="middle">0800</text>
<text x="239.50" y="715" font-size="10" text-anchor="middle">1000</text>
<text x="339.50" y="715" font-size="10" text-anchor="middle">1200</text>
<text x="439.50" y="715" font-size="10" text-anchor="middle">1400</text>
<text x="264.50" y="726" font-size="10" text-anchor="middle">UT (WIND)</text>
<text y="12.4" font-size="16" fill="#000"><tspan x="0.5" letter-spacing="0.18">Wind (SWE),</tspan><tspan x="102.6" letter-spacing="-0.8">ACE</tspan><tspan x="139.3" letter-spacing="0.3">(SWEPAM)</tspan><tspan x="236">07.10.2003</tspan><tspan x="330">06:00 - 07.10.2003</tspan><tspan x="480.5">15:00</tspan></text>
<text transform="translate(23.7,89.7) rotate(-90)" font-size="10" text-anchor="middle">n<tspan font-size="6.5" dy="1.8">p</tspan><tspan dy="-1.8"> [cm</tspan><tspan font-size="6.5" dy="-4">-3</tspan><tspan dy="4">]</tspan></text>
<text transform="translate(9.6,182.5) rotate(-90)" font-size="10" text-anchor="middle">n<tspan font-size="6.5" dy="1.8">α</tspan><tspan dy="-1.8"> [cm</tspan><tspan font-size="6.5" dy="-4">-3</tspan><tspan dy="4">]</tspan></text>
<text transform="translate(23.1,278.1) rotate(-90)" font-size="10" text-anchor="middle">A<tspan font-size="6.5" dy="1.8">α</tspan><tspan dy="-1.8"> [%]</tspan></text>
<text transform="translate(12.2,372.2) rotate(-90)" font-size="10" text-anchor="middle">|v| [km/s]</text>
<text transform="translate(9.3,467.7) rotate(-90)" font-size="10" text-anchor="middle">V<tspan font-size="6.5" dy="1.8">p</tspan><tspan dy="-1.8"> / V</tspan><tspan font-size="6.5" dy="1.8">α</tspan></text>
<text transform="translate(12.6,561.0) rotate(-90)" font-size="10" text-anchor="middle">cone angle [deg]</text>
<text transform="translate(19.8,655.2) rotate(-90)" font-size="10" text-anchor="middle">B [nT]</text>
<text x="495" y="82.9" font-size="10" fill="#ff0000" style="stroke:#ff0000">n<tspan font-size="6.6" dy="1.6">p</tspan></text>
<text x="495" y="96.2" font-size="10" fill="#ffa500" style="stroke:#ffa500">n<tspan font-size="6.6" dy="1.6">p ACE</tspan></text>
<text x="495" y="177.5" font-size="10" fill="#3000e0" style="stroke:#3000e0">n<tspan font-size="6.6" dy="1.6">α</tspan></text>
<text x="495" y="190.9" font-size="10" fill="#ffa500" style="stroke:#ffa500">n<tspan font-size="6.6" dy="1.6">α ACE</tspan></text>
<text x="495" y="271.4" font-size="10" fill="#000000" style="stroke:#000000">A<tspan font-size="6.6" dy="1.6">α</tspan></text>
<text x="495" y="284.7" font-size="10" fill="#ffa500" style="stroke:#ffa500">A<tspan font-size="6.6" dy="1.6">α ACE</tspan></text>
<text x="495" y="352.6" font-size="10" fill="#ff0000" style="stroke:#ff0000">|V<tspan font-size="6.6" dy="1.6">p</tspan><tspan dy="-1.6" dx="1.8">|</tspan></text>
<text x="495" y="366.3" font-size="10" fill="#ffa500" style="stroke:#ffa500">|V<tspan font-size="6.6" dy="1.6" letter-spacing="-0.55">p ACE</tspan><tspan dy="-1.6" x="521">|</tspan></text>
<text x="495" y="380.0" font-size="10" fill="#3000e0" style="stroke:#3000e0">|V<tspan font-size="6.6" dy="1.6">α</tspan><tspan dy="-1.6" dx="0.8">|</tspan></text>
<text x="495" y="635.0" font-size="10" fill="#000000" style="stroke:#000000">|B|</text>
<text x="495" y="648.7" font-size="10" fill="#0050ff" style="stroke:#0050ff">B<tspan font-size="6.6" dy="1.6">x</tspan></text>
<text x="495" y="662.1" font-size="10" fill="#00ff00" style="stroke:#00ff00">B<tspan font-size="6.6" dy="1.6">y</tspan></text>
<text x="495" y="675.6" font-size="10" fill="#ff0000" style="stroke:#ff0000">B<tspan font-size="6.6" dy="1.6">z</tspan></text>
</g></svg></div></body></html>
